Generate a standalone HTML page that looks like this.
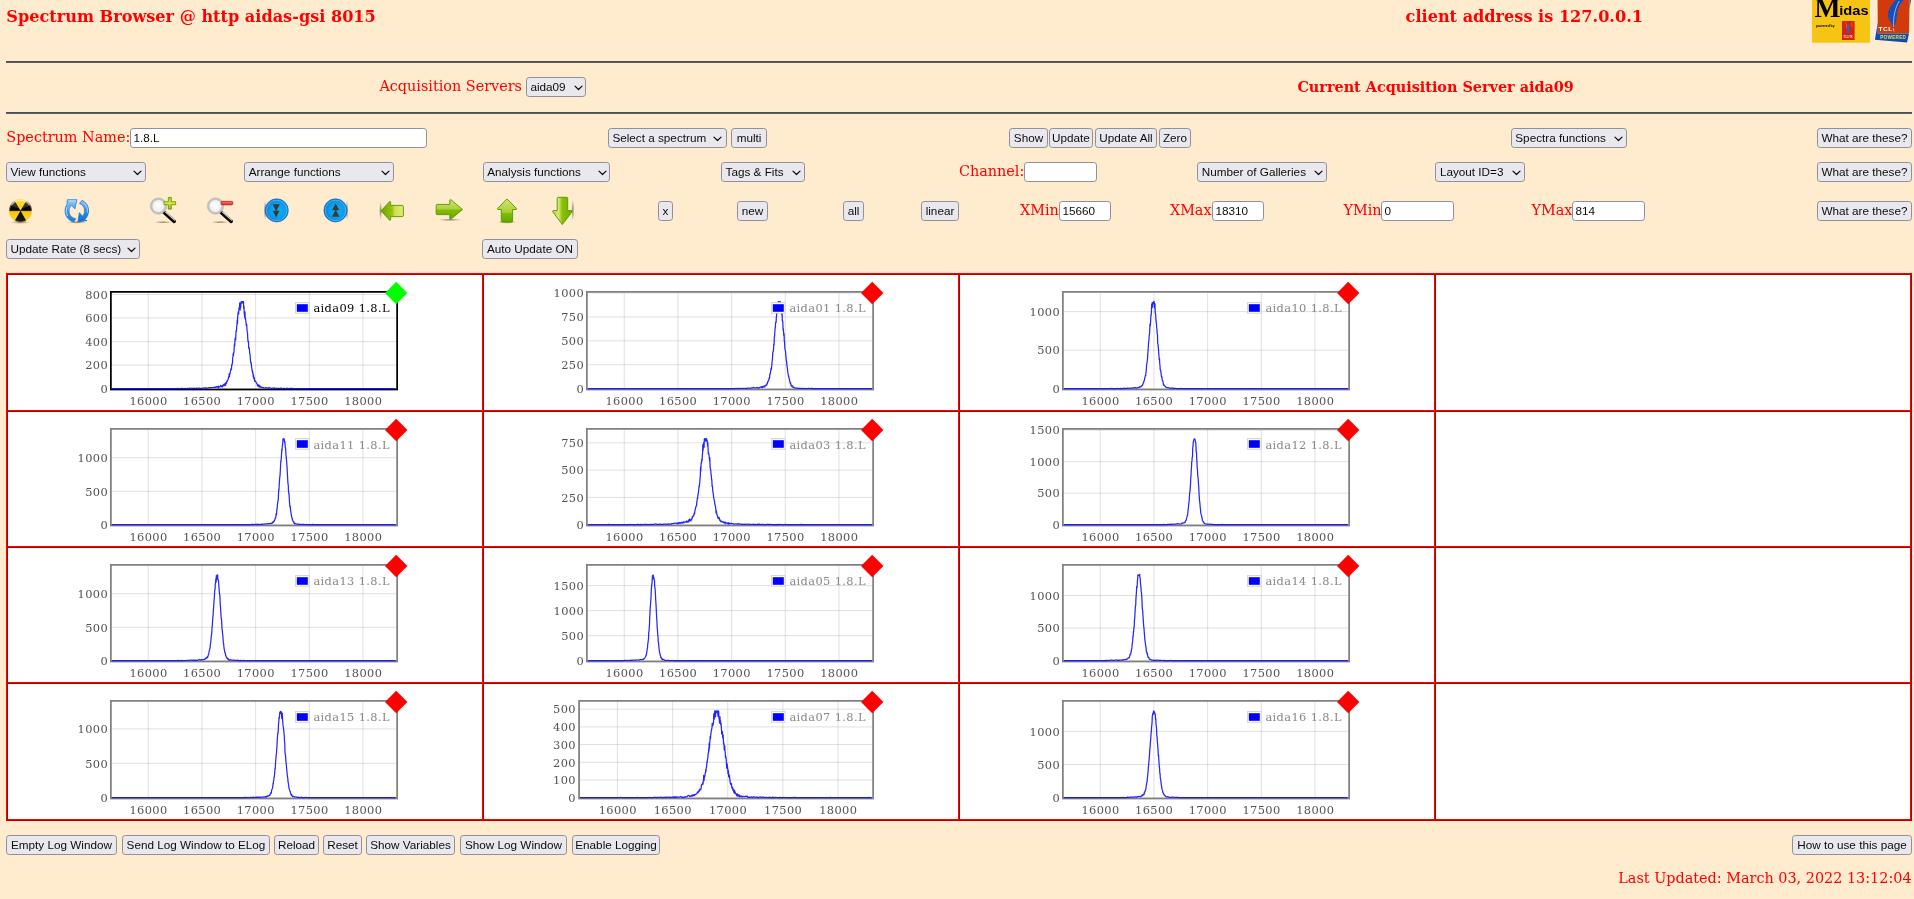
<!DOCTYPE html>
<html lang="en"><head><meta charset="utf-8"><title>Spectrum Browser</title>
<style>
html,body{margin:0;padding:0}
body{background:#ffebcd;width:1914px;height:899px;position:relative;overflow:hidden;font-family:"DejaVu Serif","Liberation Serif",serif;color:#f00}
.a{position:absolute;white-space:nowrap}
.t{font-size:14.4px;line-height:18px;color:#f00}
.h{font-size:16.13px;font-weight:bold;line-height:20px;color:#f00}
.hb{font-size:14.4px;font-weight:bold;line-height:18px;color:#f00}
button,.sel,input{position:absolute;box-sizing:border-box;height:20px;margin:0;padding:0;border:1px solid #8f8f9d;border-radius:3.2px;font-family:"Liberation Sans",sans-serif;font-size:11.73px;line-height:18px;color:#0c0c0d;white-space:nowrap}
button,.sel{background:#e9e9ed;text-align:center}
.sel{text-align:left;overflow:hidden}
.sel span{position:absolute;top:0}
.sel svg{position:absolute;top:7px}
input{background:#fff;padding:0 0 2px 2.5px;outline:none}
hr{position:absolute;left:6px;width:1906px;height:0;margin:0;border:0;border-top:1px solid #4c4d52;border-bottom:1px solid #5b5f69}
#page{position:absolute;left:0;top:0;width:1914px;height:899px;will-change:transform}
.tb{position:absolute;background:#fff}
.cell{position:absolute;background:#fff;border:1px solid;border-color:#b00000 #ff0000 #ff0000 #b00000}
.cell svg{position:absolute;left:0;top:0;will-change:transform}
.ic{position:absolute}
</style></head>
<body>
<div id="page">
<div class="a h" style="left:6.3px;top:6.9px">Spectrum Browser @ http aidas-gsi 8015</div>
<div class="a h" style="left:1405.6px;top:6.9px">client address is 127.0.0.1</div>
<svg class="ic" style="left:1810px;top:0" width="104" height="46" viewBox="1810 0 104 46">
<rect x="1812" y="0" width="58" height="42.7" fill="#f6c412"/>
<text x="1814.6" y="17.4" font-family="Liberation Serif, serif" font-weight="bold" font-size="27.5" fill="#000">M</text>
<text x="0" y="0" transform="translate(1839.2 15) scale(1.13 1)" font-family="Liberation Sans, sans-serif" font-weight="bold" font-size="13" fill="#000">idas</text>
<text x="0" y="0" transform="translate(1816 27.2) scale(.44 .5)" font-family="Liberation Sans, sans-serif" font-weight="bold" font-size="7.6" fill="#000">powered by</text>
<rect x="1842" y="21" width="12.6" height="19" fill="#d6230d"/>
<path d="M1849.6 23.4 C1847.0 25.6 1846.2 30.6 1847.6 35.2 C1849.4 31.8 1850.2 27.4 1849.6 23.4 Z" fill="#2a62c8"/>
<path d="M1845.2 22.4 C1846.8 24 1847.0 26 1846.4 28 M1852.4 22.6 C1851.2 24 1851.6 25.8 1852.6 27" stroke="#e8a020" stroke-width=".5" fill="none"/>
<text x="0" y="0" transform="translate(1843.2 38.4) scale(.5)" font-family="Liberation Sans, sans-serif" font-weight="bold" font-size="5.4" fill="#f3d9c0">TCL/TK</text>
<!-- tcl powered -->
<path d="M1877.6 0 L1909.6 0 L1909.0 33.6 L1877.8 33.6 Z" fill="#d23a0c"/>
<path d="M1877.9 22 L1877.7 33.6 L1909.0 33.4 L1907.0 42.6 L1874.9 39.8 Z" fill="#0c4bb6"/>
<path d="M1909.8 0 L1911 0 L1909.6 8 Z" fill="#0c4bb6"/>
<path d="M1895.6 0 C1892.6 3.6 1888.8 8.2 1888.0 13 C1887.4 16.6 1888.6 19 1890.4 21.6 C1891.8 23.6 1893.0 25.6 1893.6 28.6 C1894.6 25.4 1896.0 22.4 1896.6 19 C1897.4 14.6 1897.4 10.6 1898.6 7.2 C1899.6 4.6 1901.6 2.2 1903.4 0 Z" fill="#0d50c4"/>
<path d="M1899.2 1 C1895.2 8 1893.0 17 1893.6 27" stroke="#e8d8d0" stroke-width=".7" fill="none"/>
<path d="M1889.4 9.4 l1.6 1.8 M1888.4 13.4 l2 1.6 M1888.8 17.6 l2 1.2 M1897.6 11.6 l-1.8 1.8 M1897.2 16 l-1.8 1.6" stroke="#d23a0c" stroke-width=".6" fill="none"/>
<text x="0" y="0" transform="translate(1878.6 31.2) scale(1.15 1)" font-family="Liberation Sans, sans-serif" font-weight="bold" font-size="5.6" fill="#fff" letter-spacing=".5">TCL</text>
<path d="M1893.2 28 l.8 3.4" stroke="#fff" stroke-width=".6"/>
<text x="0" y="0" transform="translate(1880.2 39.4) scale(.9 1)" font-family="Liberation Sans, sans-serif" font-weight="bold" font-size="5.2" fill="#f3e020" letter-spacing=".3">POWERED</text>
</svg>

<hr style="top:61px">
<hr style="top:112px">
<div class="a t" style="left:379.4px;top:76.8px">Acquisition Servers</div>
<div class="sel" role="combobox" style="left:526px;top:77px;width:60px"><span style="left:3.4px">aida09</span><svg width="9" height="6" viewBox="0 0 9 6" style="left:46.5px"><path d="M1.0 1.1 L4.5 4.5 L8.0 1.1" fill="none" stroke="#0c0c0d" stroke-width="1.25" stroke-linecap="round" stroke-linejoin="round"/></svg></div>
<div class="a hb" style="left:1297.4px;top:78.0px">Current Acquisition Server aida09</div>
<div class="a t" style="left:6.3px;top:128.1px">Spectrum Name:</div>
<input type="text" value="1.8.L" style="left:130px;top:128px;width:297px">
<div class="sel" role="combobox" style="left:608px;top:128px;width:119px"><span style="left:3.4px">Select a spectrum</span><svg width="9" height="6" viewBox="0 0 9 6" style="left:104.3px"><path d="M1.0 1.1 L4.5 4.5 L8.0 1.1" fill="none" stroke="#0c0c0d" stroke-width="1.25" stroke-linecap="round" stroke-linejoin="round"/></svg></div>
<button type="button" style="left:731px;top:128px;width:36px">multi</button>
<button type="button" style="left:1009px;top:128px;width:39px">Show</button>
<button type="button" style="left:1049px;top:128px;width:44px">Update</button>
<button type="button" style="left:1095px;top:128px;width:62px">Update All</button>
<button type="button" style="left:1159px;top:128px;width:32px">Zero</button>
<div class="sel" role="combobox" style="left:1511px;top:128px;width:116px"><span style="left:3.3px">Spectra functions</span><svg width="9" height="6" viewBox="0 0 9 6" style="left:101.8px"><path d="M1.0 1.1 L4.5 4.5 L8.0 1.1" fill="none" stroke="#0c0c0d" stroke-width="1.25" stroke-linecap="round" stroke-linejoin="round"/></svg></div>
<button type="button" style="left:1817px;top:128px;width:95px">What are these?</button>
<div class="sel" role="combobox" style="left:6px;top:162px;width:140px"><span style="left:3.5px">View functions</span><svg width="9" height="6" viewBox="0 0 9 6" style="left:125.7px"><path d="M1.0 1.1 L4.5 4.5 L8.0 1.1" fill="none" stroke="#0c0c0d" stroke-width="1.25" stroke-linecap="round" stroke-linejoin="round"/></svg></div>
<div class="sel" role="combobox" style="left:244px;top:162px;width:150px"><span style="left:3.7px">Arrange functions</span><svg width="9" height="6" viewBox="0 0 9 6" style="left:135.5px"><path d="M1.0 1.1 L4.5 4.5 L8.0 1.1" fill="none" stroke="#0c0c0d" stroke-width="1.25" stroke-linecap="round" stroke-linejoin="round"/></svg></div>
<div class="sel" role="combobox" style="left:483px;top:162px;width:127px"><span style="left:3.2px">Analysis functions</span><svg width="9" height="6" viewBox="0 0 9 6" style="left:113.7px"><path d="M1.0 1.1 L4.5 4.5 L8.0 1.1" fill="none" stroke="#0c0c0d" stroke-width="1.25" stroke-linecap="round" stroke-linejoin="round"/></svg></div>
<div class="sel" role="combobox" style="left:721px;top:162px;width:84px"><span style="left:3.6px">Tags &amp; Fits</span><svg width="9" height="6" viewBox="0 0 9 6" style="left:69.6px"><path d="M1.0 1.1 L4.5 4.5 L8.0 1.1" fill="none" stroke="#0c0c0d" stroke-width="1.25" stroke-linecap="round" stroke-linejoin="round"/></svg></div>
<div class="a t" style="left:958.9px;top:162.3px">Channel:</div>
<input type="text" value="" style="left:1024px;top:162px;width:73px">
<div class="sel" role="combobox" style="left:1197px;top:162px;width:130px"><span style="left:3.8px">Number of Galleries</span><svg width="9" height="6" viewBox="0 0 9 6" style="left:116.0px"><path d="M1.0 1.1 L4.5 4.5 L8.0 1.1" fill="none" stroke="#0c0c0d" stroke-width="1.25" stroke-linecap="round" stroke-linejoin="round"/></svg></div>
<div class="sel" role="combobox" style="left:1435px;top:162px;width:90px"><span style="left:3.9px">Layout ID=3</span><svg width="9" height="6" viewBox="0 0 9 6" style="left:76.0px"><path d="M1.0 1.1 L4.5 4.5 L8.0 1.1" fill="none" stroke="#0c0c0d" stroke-width="1.25" stroke-linecap="round" stroke-linejoin="round"/></svg></div>
<button type="button" style="left:1817px;top:162px;width:95px">What are these?</button>
<svg class="ic" style="left:0;top:192px" width="600" height="40" viewBox="0 192 600 40">
<defs>
<radialGradient id="gsh"><stop offset="0" stop-color="#3a2a10" stop-opacity=".55"/><stop offset="1" stop-color="#3a2a10" stop-opacity="0"/></radialGradient>
<linearGradient id="gy" x1="0" y1="0" x2="0" y2="1"><stop offset="0" stop-color="#ffd800"/><stop offset=".5" stop-color="#f5c400"/><stop offset="1" stop-color="#ffdc30"/></linearGradient>
<linearGradient id="gk" x1="0" y1="0" x2="0" y2="1"><stop offset="0" stop-color="#4a4a4a"/><stop offset=".45" stop-color="#050505"/><stop offset="1" stop-color="#2a2a2a"/></linearGradient>
<clipPath id="cr"><circle cx="20.5" cy="210.8" r="11.4"/></clipPath>
<linearGradient id="gb1" x1="0" y1="0" x2="0" y2="1"><stop offset="0" stop-color="#9ad0f8"/><stop offset=".5" stop-color="#3b9be6"/><stop offset="1" stop-color="#1a78d2"/></linearGradient>
<linearGradient id="gb2" x1="0" y1="0" x2="0" y2="1"><stop offset="0" stop-color="#8cc8f6"/><stop offset=".5" stop-color="#2d8fe2"/><stop offset="1" stop-color="#0f6fd0"/></linearGradient>
<radialGradient id="glens" cx=".45" cy=".45" r=".6"><stop offset="0" stop-color="#ffffff"/><stop offset=".7" stop-color="#f0eeee"/><stop offset="1" stop-color="#d9d6d6"/></radialGradient>
<linearGradient id="gpl" x1="0" y1="0" x2="0" y2="1"><stop offset="0" stop-color="#a6c81a"/><stop offset=".5" stop-color="#d6e84a"/><stop offset="1" stop-color="#8ab510"/></linearGradient>
<linearGradient id="gmi" x1="0" y1="0" x2="0" y2="1"><stop offset="0" stop-color="#ee7a78"/><stop offset=".55" stop-color="#e35553"/><stop offset="1" stop-color="#cf1d1d"/></linearGradient>
<radialGradient id="gball" cx=".55" cy=".5" r=".55"><stop offset="0" stop-color="#08b2f6"/><stop offset=".6" stop-color="#0a9deb"/><stop offset="1" stop-color="#0a72cf"/></radialGradient>
<linearGradient id="gla" x1="0" y1="0" x2="1" y2="0"><stop offset="0" stop-color="#62a600"/><stop offset=".5" stop-color="#9cc40a"/><stop offset=".62" stop-color="#cfdf58"/><stop offset="1" stop-color="#e2ea70"/></linearGradient>
<linearGradient id="gra" x1="0" y1="0" x2="0" y2="1"><stop offset="0" stop-color="#cfe078"/><stop offset=".45" stop-color="#b4d03e"/><stop offset=".55" stop-color="#86ba00"/><stop offset="1" stop-color="#62a800"/></linearGradient>
<linearGradient id="gua" x1="0" y1="0" x2="0" y2="1"><stop offset="0" stop-color="#d4e478"/><stop offset=".58" stop-color="#a8cf30"/><stop offset=".62" stop-color="#86bc00"/><stop offset="1" stop-color="#5ca600"/></linearGradient>
<linearGradient id="gda" x1="0" y1="0" x2="1" y2="0"><stop offset="0" stop-color="#b2d23a"/><stop offset=".3" stop-color="#d6e67a"/><stop offset=".5" stop-color="#8cc000"/><stop offset="1" stop-color="#6cae00"/></linearGradient>
</defs>
<!-- 1 radiation -->
<ellipse cx="20.5" cy="222.3" rx="10" ry="1.6" fill="url(#gsh)"/>
<g clip-path="url(#cr)">
<circle cx="20.5" cy="210.8" r="11.6" fill="url(#gy)"/>
<path d="M20.5 210.8 L-2.5 210.8 L9 190.9 Z M20.5 210.8 L32 190.9 L43.5 210.8 Z M20.5 210.8 L32 230.7 L9 230.7 Z" fill="url(#gk)"/>
<rect x="8" y="210.1" width="25" height="1" fill="#0a0a30" opacity=".6"/>
</g>
<ellipse cx="20.5" cy="203.5" rx="9" ry="5" fill="#fff" opacity=".13" clip-path="url(#cr)"/>
<circle cx="20.5" cy="210.8" r="11.2" fill="none" stroke="#f0b860" stroke-width=".7" opacity=".7"/>
<path d="M11.5 205.5 A10.5 10.5 0 0 1 29.5 205.5" fill="none" stroke="#fff" stroke-width="1.1" opacity=".55"/>
<!-- 2 refresh -->
<ellipse cx="77" cy="222.3" rx="10" ry="1.4" fill="url(#gsh)"/>
<path d="M73.9 222.2 A11.8 11.8 0 0 1 67.0 204.2 L67.3 199.7 L76.9 199.7 L74.9 208.9 L71.3 205.1 A7.9 7.9 0 0 0 75.7 218.6 Z" fill="url(#gb1)" stroke="#2a80d8" stroke-width=".8" stroke-linejoin="round"/>
<path d="M82.2 200.3 A11.8 11.8 0 0 1 84.4 219.8 L87.0 220.5 L77.9 221.9 L79.4 212.7 L82.5 216.3 A7.9 7.9 0 0 0 79.5 203.4 Z" fill="url(#gb2)" stroke="#1a6fd0" stroke-width=".8" stroke-linejoin="round"/>
<path d="M66.8 207.2 A10.6 10.6 0 0 0 67.6 216.1" fill="none" stroke="#d8eefc" stroke-width="1" opacity=".7"/>
<path d="M83.6 202.7 A10.6 10.6 0 0 1 87.2 212.6" fill="none" stroke="#d8eefc" stroke-width="1" opacity=".7"/>
<path d="M68.6 200.9 H75.6" stroke="#d8eefc" stroke-width=".9" opacity=".7"/>
<!-- 3 zoom in -->
<ellipse cx="163" cy="222.2" rx="9" ry="1.3" fill="url(#gsh)"/>
<path d="M164.2 212.4 L174.2 221.4" stroke="#0a0a0a" stroke-width="3.6" stroke-linecap="round"/>
<path d="M165.6 212.0 L174.6 220.2" stroke="#fff" stroke-width="1.1" stroke-linecap="round" opacity=".85"/>
<circle cx="158.5" cy="206.1" r="7.1" fill="url(#glens)" stroke="#c3c3c3" stroke-width="2"/>
<circle cx="158.5" cy="206.1" r="8.2" fill="none" stroke="#a9a9a9" stroke-width=".5"/>
<path d="M168.3 197.4 h3.0 v4.3 h4.3 v3.0 h-4.3 v4.4 h-3.0 v-4.4 h-4.3 v-3.0 h4.3 Z" fill="url(#gpl)" stroke="#6f9a00" stroke-width=".9" stroke-linejoin="round"/>
<!-- 4 zoom out -->
<ellipse cx="220" cy="222.2" rx="9" ry="1.3" fill="url(#gsh)"/>
<path d="M221.2 212.4 L231.2 221.4" stroke="#0a0a0a" stroke-width="3.6" stroke-linecap="round"/>
<path d="M222.6 212.0 L231.6 220.2" stroke="#fff" stroke-width="1.1" stroke-linecap="round" opacity=".85"/>
<circle cx="215.5" cy="206.1" r="7.1" fill="url(#glens)" stroke="#c3c3c3" stroke-width="2"/>
<circle cx="215.5" cy="206.1" r="8.2" fill="none" stroke="#a9a9a9" stroke-width=".5"/>
<rect x="221.1" y="201.4" width="11.6" height="3.4" rx=".9" fill="url(#gmi)" stroke="#c81414" stroke-width=".8"/>
<!-- 5 ball down -->
<ellipse cx="265.2" cy="210.4" rx="1.6" ry="10" fill="url(#gsh)"/>
<circle cx="276.7" cy="210.4" r="11.6" fill="url(#gball)" stroke="#0b62c4" stroke-width=".6"/>
<circle cx="276.7" cy="210.4" r="10.2" fill="none" stroke="#7fd0ff" stroke-width=".8" opacity=".7"/>
<path d="M272.7 204.2 L279.8 204.2 L276.2 211.6 Z M272.8 210.8 L279.5 210.8 L276.2 217.6 Z" fill="#3c3733"/>
<!-- 6 ball up -->
<ellipse cx="347.0" cy="210.4" rx="1.6" ry="10" fill="url(#gsh)"/>
<circle cx="335.5" cy="210.4" r="11.6" fill="url(#gball)" stroke="#0b62c4" stroke-width=".6"/>
<circle cx="335.5" cy="210.4" r="10.2" fill="none" stroke="#7fd0ff" stroke-width=".8" opacity=".7"/>
<path d="M335.7 203.5 L339.3 210.2 L332.1 210.2 Z M335.7 209.4 L339.3 216.8 L332.1 216.8 Z" fill="#3c3733"/>
<!-- 7 left arrow -->
<ellipse cx="380.6" cy="210.8" rx="1.5" ry="9.5" fill="url(#gsh)"/>
<path d="M381.0 210.8 L389.8 201.4 L390.6 201.8 L390.6 205.4 L402.8 205.4 L403.4 206 L403.4 216 L402.8 216.6 L390.6 216.6 L390.6 220.0 L389.8 220.4 Z" fill="url(#gla)" stroke="#4f9800" stroke-width=".9" stroke-linejoin="round"/>
<!-- 8 right arrow -->
<ellipse cx="450" cy="219.8" rx="12" ry="1.3" fill="url(#gsh)"/>
<path d="M462.6 209.5 L450.8 199.6 L449.8 200.0 L449.8 204.4 L436.8 204.4 L436.2 205 L436.2 214.0 L436.8 214.6 L449.8 214.6 L449.8 218.8 L450.8 219.2 Z" fill="url(#gra)" stroke="#4f9800" stroke-width=".9" stroke-linejoin="round"/>
<!-- 9 up arrow -->
<ellipse cx="507" cy="222.2" rx="10" ry="1.5" fill="url(#gsh)"/>
<path d="M506.9 198.9 L497.4 208.6 L497.8 209.5 L501.3 209.5 L501.3 221.4 L501.9 222 L512.0 222 L512.6 221.4 L512.6 209.5 L516.3 209.5 L516.7 208.6 Z" fill="url(#gua)" stroke="#4f9800" stroke-width=".9" stroke-linejoin="round"/>
<!-- 10 down arrow -->
<ellipse cx="572.8" cy="210" rx="1.5" ry="11" fill="url(#gsh)"/>
<path d="M562.3 224.6 L552.6 211.6 L553.0 210.6 L557.2 210.6 L557.2 197.9 L557.8 197.3 L567.1 197.3 L567.7 197.9 L567.7 210.6 L571.8 210.6 L572.2 211.6 Z" fill="url(#gda)" stroke="#4f9800" stroke-width=".9" stroke-linejoin="round"/>
</svg>

<button type="button" style="left:658px;top:201px;width:15px">x</button>
<button type="button" style="left:737px;top:201px;width:31px">new</button>
<button type="button" style="left:843px;top:201px;width:21px">all</button>
<button type="button" style="left:921px;top:201px;width:38px">linear</button>
<div class="a t" style="left:1020.0px;top:200.9px">XMin</div>
<input type="text" value="15660" style="left:1059px;top:201px;width:52px">
<div class="a t" style="left:1169.9px;top:200.9px">XMax</div>
<input type="text" value="18310" style="left:1212px;top:201px;width:52px">
<div class="a t" style="left:1343.4px;top:200.9px">YMin</div>
<input type="text" value="0" style="left:1381px;top:201px;width:73px">
<div class="a t" style="left:1531.4px;top:200.9px">YMax</div>
<input type="text" value="814" style="left:1572px;top:201px;width:73px">
<button type="button" style="left:1817px;top:201px;width:95px">What are these?</button>
<div class="sel" role="combobox" style="left:6px;top:239px;width:134px"><span style="left:3.5px">Update Rate (8 secs)</span><svg width="9" height="6" viewBox="0 0 9 6" style="left:119.8px"><path d="M1.0 1.1 L4.5 4.5 L8.0 1.1" fill="none" stroke="#0c0c0d" stroke-width="1.25" stroke-linecap="round" stroke-linejoin="round"/></svg></div>
<button type="button" style="left:482px;top:239px;width:96px">Auto Update ON</button>
<div class="tb" style="left:6px;top:273px;width:1904px;height:546px;border:1px solid;border-color:#ff0000 #b00000 #b00000 #ff0000"></div>
<div class="cell" style="left:7px;top:274px;width:474px;height:135px"><svg width="474" height="135" viewBox="0 0 474 135" font-family="DejaVu Serif, Liberation Serif, serif" font-size="11.4" letter-spacing="0.38"><path d="M140.25 17.75V113.70M193.93 17.75V113.70M247.61 17.75V113.70M301.29 17.75V113.70M354.97 17.75V113.70M103.75 113.70H388.25M103.75 90.13H388.25M103.75 66.55H388.25M103.75 42.98H388.25M103.75 19.40H388.25" stroke="#545454" stroke-opacity="0.18" stroke-width="1" fill="none"/><rect x="102.88" y="16.88" width="286.25" height="97.62" fill="none" stroke="#000" stroke-width="1.75"/><path d="M103.8 113.7L104.6 113.6L105.4 113.7L106.2 113.7L107.0 113.7L107.8 113.7L108.6 113.6L109.4 113.6L110.2 113.6L111.0 113.7L111.8 113.6L112.6 113.7L113.4 113.7L114.2 113.6L115.0 113.6L115.8 113.6L116.6 113.7L117.4 113.7L118.2 113.7L119.0 113.7L119.8 113.6L120.6 113.7L121.4 113.6L122.2 113.7L123.0 113.6L123.8 113.6L124.6 113.7L125.4 113.6L126.2 113.6L127.0 113.6L127.8 113.7L128.6 113.7L129.4 113.7L130.2 113.7L131.0 113.6L131.8 113.6L132.6 113.7L133.4 113.7L134.2 113.7L135.0 113.6L135.8 113.7L136.6 113.6L137.4 113.6L138.2 113.7L139.0 113.6L139.8 113.6L140.6 113.7L141.4 113.7L142.2 113.6L143.0 113.7L143.8 113.6L144.6 113.6L145.4 113.7L146.2 113.6L147.0 113.6L147.8 113.6L148.6 113.5L149.4 113.6L150.2 113.6L151.0 113.7L151.8 113.6L152.6 113.7L153.4 113.7L154.2 113.7L155.0 113.7L155.8 113.7L156.6 113.5L157.4 113.7L158.2 113.7L159.0 113.6L159.8 113.5L160.6 113.5L161.4 113.7L162.2 113.7L163.0 113.6L163.8 113.7L164.6 113.7L165.4 113.5L166.2 113.5L167.0 113.6L167.8 113.5L168.6 113.5L169.4 113.4L170.2 113.5L171.0 113.5L171.8 113.5L172.6 113.7L173.4 113.4L174.2 113.4L175.0 113.5L175.8 113.7L176.6 113.6L177.4 113.4L178.2 113.7L179.0 113.5L179.8 113.3L180.6 113.6L181.4 113.2L182.2 113.4L183.0 113.4L183.8 113.4L184.6 113.3L185.4 113.4L186.2 113.2L187.0 113.5L187.8 113.4L188.6 113.1L189.4 113.3L190.2 113.4L191.0 113.1L191.8 113.0L192.6 113.3L193.4 113.5L194.2 113.2L195.0 113.2L195.8 113.2L196.6 112.8L197.4 113.3L198.2 112.7L199.0 113.2L199.8 113.1L200.6 112.7L201.4 112.5L202.2 112.5L203.0 112.6L203.8 112.6L204.6 112.5L205.4 112.3L206.2 112.5L207.0 112.2L207.2 112.1L207.5 112.3L207.7 112.0L208.0 112.0L208.2 111.5L208.5 112.0L208.7 112.2L209.0 112.2L209.2 112.0L209.5 111.7L209.7 112.1L210.0 111.8L210.2 111.2L210.5 112.8L210.7 112.2L211.0 111.6L211.2 111.5L211.5 111.5L211.7 111.8L212.0 111.3L212.2 111.4L212.5 111.6L212.7 110.3L213.0 111.1L213.2 111.4L213.5 111.2L213.7 111.1L214.0 111.0L214.2 112.1L214.5 111.0L214.7 110.2L215.0 111.1L215.2 110.4L215.5 109.8L215.7 109.7L216.0 109.2L216.2 110.7L216.5 109.8L216.7 109.6L217.0 108.8L217.2 108.3L217.5 110.4L217.7 107.7L218.0 109.1L218.2 107.4L218.5 108.5L218.7 107.0L219.0 105.8L219.2 106.3L219.5 105.6L219.7 104.6L220.0 104.6L220.2 104.2L220.5 102.1L220.7 101.8L221.0 102.3L221.2 98.6L221.5 101.6L221.7 98.6L222.0 98.9L222.2 97.5L222.5 95.8L222.7 95.2L223.0 93.5L223.2 94.9L223.5 93.7L223.7 89.6L224.0 90.2L224.2 88.9L224.5 88.0L224.7 82.4L225.0 81.4L225.2 78.5L225.5 80.5L225.7 77.2L226.0 77.2L226.2 72.0L226.5 68.5L226.7 70.9L227.0 64.3L227.2 63.2L227.5 63.3L227.7 64.8L228.0 55.9L228.2 56.8L228.5 55.7L228.7 51.5L229.0 49.3L229.2 44.8L229.5 48.5L229.7 41.6L230.0 38.8L230.2 37.0L230.5 39.1L230.7 38.8L231.0 32.9L231.2 33.7L231.5 32.3L231.7 27.8L232.0 30.9L232.2 35.0L232.5 29.4L232.7 32.4L233.0 27.2L233.2 26.7L233.5 28.1L233.7 26.5L234.0 27.5L234.2 26.7L234.5 27.7L234.7 28.1L235.0 26.7L235.2 26.8L235.5 26.6L235.7 33.5L236.0 31.0L236.2 39.1L236.5 38.7L236.7 42.4L237.0 36.9L237.2 44.1L237.5 43.1L237.7 45.4L238.0 47.0L238.2 50.3L238.5 50.6L238.7 49.4L239.0 55.3L239.2 56.4L239.5 57.7L239.7 62.2L240.0 66.4L240.2 67.2L240.5 66.3L240.7 73.3L241.0 73.5L241.2 72.7L241.5 75.1L241.7 78.3L242.0 79.0L242.2 81.8L242.5 85.6L242.7 87.8L243.0 88.1L243.2 87.5L243.5 91.1L243.7 92.9L244.0 94.1L244.2 96.4L244.5 95.9L244.7 98.3L245.0 97.7L245.2 101.7L245.5 99.9L245.7 101.8L246.0 103.9L246.2 102.3L246.5 104.0L246.7 106.3L247.0 105.8L247.2 105.6L247.5 106.7L247.7 106.4L248.0 106.9L248.2 107.5L248.5 108.1L248.7 107.9L249.0 108.7L249.2 109.2L249.5 110.9L249.7 109.6L250.0 109.7L250.2 110.7L250.5 111.0L250.7 110.1L251.0 111.9L251.2 111.1L251.5 110.5L251.7 112.0L252.0 111.5L252.2 111.2L252.5 112.0L252.7 111.9L253.0 111.8L253.2 112.5L253.5 112.3L253.7 112.3L254.0 112.2L254.8 112.6L255.6 112.7L256.4 113.0L257.2 112.9L258.0 112.7L258.8 112.9L259.6 113.2L260.4 113.2L261.2 112.5L262.0 112.9L262.8 113.0L263.6 113.7L264.4 113.1L265.2 113.1L266.0 112.9L266.8 113.2L267.6 113.3L268.4 113.2L269.2 113.7L270.0 113.2L270.8 113.3L271.6 113.5L272.4 113.2L273.2 113.1L274.0 113.6L274.8 113.5L275.6 113.4L276.4 113.4L277.2 113.5L278.0 113.6L278.8 113.2L279.6 113.3L280.4 113.6L281.2 113.7L282.0 113.3L282.8 113.4L283.6 113.3L284.4 113.4L285.2 113.6L286.0 113.5L286.8 113.7L287.6 113.6L288.4 113.5L289.2 113.5L290.0 113.6L290.8 113.6L291.6 113.5L292.4 113.5L293.2 113.5L294.0 113.5L294.8 113.6L295.6 113.5L296.4 113.6L297.2 113.7L298.0 113.6L298.8 113.6L299.6 113.6L300.4 113.6L301.2 113.6L302.0 113.6L302.8 113.6L303.6 113.7L304.4 113.6L305.2 113.5L306.0 113.6L306.8 113.6L307.6 113.6L308.4 113.7L309.2 113.7L310.0 113.6L310.8 113.7L311.6 113.6L312.4 113.7L313.2 113.7L314.0 113.7L314.8 113.5L315.6 113.7L316.4 113.7L317.2 113.7L318.0 113.6L318.8 113.6L319.6 113.6L320.4 113.5L321.2 113.6L322.0 113.6L322.8 113.6L323.6 113.5L324.4 113.6L325.2 113.6L326.0 113.7L326.8 113.7L327.6 113.6L328.4 113.7L329.2 113.6L330.0 113.6L330.8 113.6L331.6 113.7L332.4 113.5L333.2 113.6L334.0 113.7L334.8 113.6L335.6 113.5L336.4 113.7L337.2 113.6L338.0 113.6L338.8 113.7L339.6 113.7L340.4 113.6L341.2 113.6L342.0 113.6L342.8 113.6L343.6 113.7L344.4 113.6L345.2 113.6L346.0 113.6L346.8 113.7L347.6 113.7L348.4 113.6L349.2 113.7L350.0 113.7L350.8 113.7L351.6 113.7L352.4 113.7L353.2 113.7L354.0 113.7L354.8 113.6L355.6 113.6L356.4 113.7L357.2 113.7L358.0 113.7L358.8 113.6L359.6 113.6L360.4 113.6L361.2 113.7L362.0 113.7L362.8 113.7L363.6 113.6L364.4 113.6L365.2 113.7L366.0 113.7L366.8 113.6L367.6 113.7L368.4 113.7L369.2 113.7L370.0 113.7L370.8 113.7L371.6 113.7L372.4 113.7L373.2 113.6L374.0 113.6L374.8 113.6L375.6 113.6L376.4 113.7L377.2 113.7L378.0 113.7L378.8 113.7L379.6 113.7L380.4 113.7L381.2 113.6L382.0 113.7L382.8 113.7L383.6 113.7L384.4 113.7L385.2 113.7L386.0 113.7L386.8 113.7L387.6 113.6" fill="none" stroke="#0000ff" stroke-width="1.25" stroke-opacity="0.85" stroke-linejoin="round"/><text x="140.5" y="129.6" text-anchor="middle" fill="#545454">16000</text><text x="194.1" y="129.6" text-anchor="middle" fill="#545454">16500</text><text x="247.8" y="129.6" text-anchor="middle" fill="#545454">17000</text><text x="301.5" y="129.6" text-anchor="middle" fill="#545454">17500</text><text x="355.2" y="129.6" text-anchor="middle" fill="#545454">18000</text><text x="100.1" y="117.6" text-anchor="end" fill="#545454">0</text><text x="100.1" y="93.6" text-anchor="end" fill="#545454">200</text><text x="100.1" y="70.6" text-anchor="end" fill="#545454">400</text><text x="100.1" y="46.6" text-anchor="end" fill="#545454">600</text><text x="100.1" y="23.6" text-anchor="end" fill="#545454">800</text><rect x="287.4" y="27.6" width="13.6" height="10.6" fill="#fffff4" stroke="#ccc" stroke-width="0.8"/><rect x="288.8" y="29.2" width="11" height="7.6" fill="#0000ff"/><text x="305.4" y="36.8" fill="#000">aida09 1.8.L</text><path d="M388.2 6.800000000000001L399.4 18L388.2 29.2L377.0 18Z" fill="#00ff00"/></svg></div>
<div class="cell" style="left:483px;top:274px;width:474px;height:135px"><svg width="474" height="135" viewBox="0 0 474 135" font-family="DejaVu Serif, Liberation Serif, serif" font-size="11.4" letter-spacing="0.38"><path d="M140.25 17.75V113.70M193.93 17.75V113.70M247.61 17.75V113.70M301.29 17.75V113.70M354.97 17.75V113.70M103.75 113.70H388.25M103.75 89.78H388.25M103.75 65.87H388.25M103.75 41.95H388.25M103.75 18.04H388.25" stroke="#545454" stroke-opacity="0.18" stroke-width="1" fill="none"/><rect x="102.88" y="16.88" width="286.25" height="97.62" fill="none" stroke="#808080" stroke-width="1.75"/><path d="M103.8 113.7L104.6 113.7L105.4 113.7L106.2 113.7L107.0 113.7L107.8 113.7L108.6 113.7L109.4 113.7L110.2 113.6L111.0 113.7L111.8 113.7L112.6 113.7L113.4 113.7L114.2 113.7L115.0 113.6L115.8 113.7L116.6 113.7L117.4 113.6L118.2 113.6L119.0 113.7L119.8 113.7L120.6 113.7L121.4 113.7L122.2 113.7L123.0 113.7L123.8 113.7L124.6 113.7L125.4 113.7L126.2 113.7L127.0 113.7L127.8 113.6L128.6 113.6L129.4 113.7L130.2 113.7L131.0 113.6L131.8 113.6L132.6 113.7L133.4 113.7L134.2 113.6L135.0 113.7L135.8 113.6L136.6 113.7L137.4 113.7L138.2 113.6L139.0 113.7L139.8 113.6L140.6 113.7L141.4 113.7L142.2 113.7L143.0 113.7L143.8 113.7L144.6 113.7L145.4 113.7L146.2 113.6L147.0 113.7L147.8 113.6L148.6 113.7L149.4 113.7L150.2 113.6L151.0 113.6L151.8 113.7L152.6 113.7L153.4 113.7L154.2 113.6L155.0 113.7L155.8 113.7L156.6 113.6L157.4 113.7L158.2 113.7L159.0 113.6L159.8 113.7L160.6 113.6L161.4 113.7L162.2 113.7L163.0 113.6L163.8 113.6L164.6 113.7L165.4 113.7L166.2 113.7L167.0 113.7L167.8 113.7L168.6 113.6L169.4 113.6L170.2 113.7L171.0 113.7L171.8 113.7L172.6 113.7L173.4 113.7L174.2 113.7L175.0 113.7L175.8 113.7L176.6 113.7L177.4 113.7L178.2 113.7L179.0 113.7L179.8 113.7L180.6 113.7L181.4 113.7L182.2 113.7L183.0 113.7L183.8 113.7L184.6 113.7L185.4 113.7L186.2 113.7L187.0 113.7L187.8 113.7L188.6 113.7L189.4 113.7L190.2 113.7L191.0 113.7L191.8 113.7L192.6 113.7L193.4 113.7L194.2 113.6L195.0 113.7L195.8 113.7L196.6 113.7L197.4 113.6L198.2 113.7L199.0 113.7L199.8 113.7L200.6 113.7L201.4 113.7L202.2 113.7L203.0 113.7L203.8 113.7L204.6 113.7L205.4 113.6L206.2 113.7L207.0 113.6L207.8 113.6L208.6 113.7L209.4 113.7L210.2 113.7L211.0 113.6L211.8 113.7L212.6 113.7L213.4 113.6L214.2 113.7L215.0 113.7L215.8 113.7L216.6 113.7L217.4 113.7L218.2 113.7L219.0 113.7L219.8 113.7L220.6 113.7L221.4 113.6L222.2 113.7L223.0 113.7L223.8 113.6L224.6 113.7L225.4 113.6L226.2 113.7L227.0 113.7L227.8 113.6L228.6 113.6L229.4 113.6L230.2 113.7L231.0 113.7L231.8 113.6L232.6 113.6L233.4 113.6L234.2 113.7L235.0 113.6L235.8 113.6L236.6 113.5L237.4 113.7L238.2 113.5L239.0 113.6L239.8 113.6L240.6 113.7L241.4 113.7L242.2 113.7L243.0 113.6L243.8 113.7L244.6 113.5L245.4 113.5L246.2 113.5L247.0 113.5L247.8 113.6L248.6 113.5L249.4 113.7L250.2 113.6L251.0 113.4L251.8 113.5L252.6 113.3L253.4 113.5L254.2 113.6L255.0 113.3L255.8 113.4L256.6 113.5L257.4 113.4L258.2 113.5L259.0 113.4L259.8 113.3L260.6 113.5L261.4 113.4L262.2 113.4L263.0 113.3L263.8 113.2L264.6 113.1L265.4 113.2L266.2 113.3L267.0 113.1L267.8 112.9L268.6 112.9L269.4 112.4L270.2 112.9L271.0 113.0L271.8 112.9L272.6 112.5L273.4 112.9L274.2 112.7L275.0 113.0L275.8 112.5L276.6 112.1L276.8 112.0L277.1 112.1L277.3 111.9L277.6 112.4L277.8 111.6L278.1 111.5L278.3 112.6L278.6 112.4L278.8 111.7L279.1 111.6L279.3 111.3L279.6 111.6L279.8 112.0L280.1 111.8L280.3 110.8L280.6 111.3L280.8 111.9L281.1 111.1L281.3 110.5L281.6 110.6L281.8 110.1L282.1 110.0L282.3 109.9L282.6 110.2L282.8 109.3L283.1 108.5L283.3 108.9L283.6 107.4L283.8 106.3L284.1 106.4L284.3 106.1L284.6 105.6L284.8 105.5L285.1 102.8L285.3 103.4L285.6 102.7L285.8 99.4L286.1 98.9L286.3 99.1L286.6 96.9L286.8 95.3L287.1 93.1L287.3 94.6L287.6 91.7L287.8 90.4L288.1 86.4L288.3 85.4L288.6 81.6L288.8 77.1L289.1 76.7L289.3 76.4L289.6 72.5L289.8 69.1L290.1 70.1L290.3 62.2L290.6 61.1L290.8 57.3L291.1 53.6L291.3 52.7L291.6 47.8L291.8 46.8L292.1 47.4L292.3 42.7L292.6 40.5L292.8 36.4L293.1 32.0L293.3 37.4L293.6 32.4L293.8 32.4L294.1 29.0L294.3 26.5L294.6 27.9L294.8 30.8L295.1 26.6L295.3 28.1L295.6 28.5L295.8 27.0L296.1 26.6L296.3 27.1L296.6 28.8L296.8 36.5L297.1 35.2L297.3 34.4L297.6 37.3L297.8 39.6L298.1 38.4L298.3 45.9L298.6 45.7L298.8 46.6L299.1 55.1L299.3 53.7L299.6 57.3L299.8 60.8L300.1 58.5L300.3 66.4L300.6 66.7L300.8 72.2L301.1 74.9L301.3 75.7L301.6 76.8L301.8 81.2L302.1 82.5L302.3 85.8L302.6 86.4L302.8 89.6L303.1 91.5L303.3 92.8L303.6 94.8L303.8 96.9L304.1 98.9L304.3 99.8L304.6 101.6L304.8 101.3L305.1 103.6L305.3 103.9L305.6 105.9L305.8 106.0L306.1 108.1L306.3 108.2L306.6 107.7L306.8 108.9L307.1 110.6L307.3 110.2L307.6 110.5L307.8 111.1L308.1 111.7L308.3 111.9L308.6 111.0L308.8 112.0L309.1 111.8L309.3 112.0L309.6 112.6L309.8 112.4L310.6 112.8L311.4 113.2L312.2 113.1L313.0 113.2L313.8 113.2L314.6 113.4L315.4 113.4L316.2 113.4L317.0 113.5L317.8 113.3L318.6 113.4L319.4 113.5L320.2 113.5L321.0 113.4L321.8 113.5L322.6 113.6L323.4 113.5L324.2 113.3L325.0 113.3L325.8 113.5L326.6 113.6L327.4 113.2L328.2 113.5L329.0 113.5L329.8 113.6L330.6 113.6L331.4 113.6L332.2 113.6L333.0 113.6L333.8 113.6L334.6 113.6L335.4 113.6L336.2 113.7L337.0 113.6L337.8 113.7L338.6 113.6L339.4 113.7L340.2 113.6L341.0 113.6L341.8 113.7L342.6 113.7L343.4 113.7L344.2 113.5L345.0 113.7L345.8 113.7L346.6 113.7L347.4 113.6L348.2 113.7L349.0 113.7L349.8 113.6L350.6 113.6L351.4 113.5L352.2 113.7L353.0 113.7L353.8 113.7L354.6 113.6L355.4 113.6L356.2 113.6L357.0 113.7L357.8 113.6L358.6 113.7L359.4 113.7L360.2 113.7L361.0 113.7L361.8 113.7L362.6 113.6L363.4 113.7L364.2 113.7L365.0 113.7L365.8 113.7L366.6 113.6L367.4 113.7L368.2 113.7L369.0 113.7L369.8 113.7L370.6 113.7L371.4 113.7L372.2 113.6L373.0 113.7L373.8 113.6L374.6 113.7L375.4 113.7L376.2 113.7L377.0 113.7L377.8 113.7L378.6 113.7L379.4 113.7L380.2 113.6L381.0 113.7L381.8 113.7L382.6 113.6L383.4 113.7L384.2 113.7L385.0 113.7L385.8 113.7L386.6 113.7L387.4 113.7L388.2 113.6" fill="none" stroke="#0000ff" stroke-width="1.25" stroke-opacity="0.85" stroke-linejoin="round"/><text x="140.5" y="129.6" text-anchor="middle" fill="#545454">16000</text><text x="194.1" y="129.6" text-anchor="middle" fill="#545454">16500</text><text x="247.8" y="129.6" text-anchor="middle" fill="#545454">17000</text><text x="301.5" y="129.6" text-anchor="middle" fill="#545454">17500</text><text x="355.2" y="129.6" text-anchor="middle" fill="#545454">18000</text><text x="100.1" y="117.6" text-anchor="end" fill="#545454">0</text><text x="100.1" y="93.6" text-anchor="end" fill="#545454">250</text><text x="100.1" y="69.6" text-anchor="end" fill="#545454">500</text><text x="100.1" y="45.6" text-anchor="end" fill="#545454">750</text><text x="100.1" y="21.6" text-anchor="end" fill="#545454">1000</text><rect x="287.4" y="27.6" width="13.6" height="10.6" fill="#fffff4" stroke="#ccc" stroke-width="0.8"/><rect x="288.8" y="29.2" width="11" height="7.6" fill="#0000ff"/><text x="305.4" y="36.8" fill="#888">aida01 1.8.L</text><path d="M388.2 6.800000000000001L399.4 18L388.2 29.2L377.0 18Z" fill="#ff0000"/></svg></div>
<div class="cell" style="left:959px;top:274px;width:474px;height:135px"><svg width="474" height="135" viewBox="0 0 474 135" font-family="DejaVu Serif, Liberation Serif, serif" font-size="11.4" letter-spacing="0.38"><path d="M140.25 17.75V113.70M193.93 17.75V113.70M247.61 17.75V113.70M301.29 17.75V113.70M354.97 17.75V113.70M103.75 113.70H388.25M103.75 75.17H388.25M103.75 36.63H388.25" stroke="#545454" stroke-opacity="0.18" stroke-width="1" fill="none"/><rect x="102.88" y="16.88" width="286.25" height="97.62" fill="none" stroke="#808080" stroke-width="1.75"/><path d="M103.8 113.7L104.6 113.7L105.4 113.7L106.2 113.7L107.0 113.6L107.8 113.6L108.6 113.7L109.4 113.6L110.2 113.7L111.0 113.7L111.8 113.6L112.6 113.7L113.4 113.6L114.2 113.6L115.0 113.7L115.8 113.7L116.6 113.6L117.4 113.7L118.2 113.7L119.0 113.7L119.8 113.7L120.6 113.7L121.4 113.6L122.2 113.7L123.0 113.7L123.8 113.6L124.6 113.7L125.4 113.6L126.2 113.7L127.0 113.7L127.8 113.6L128.6 113.6L129.4 113.7L130.2 113.6L131.0 113.6L131.8 113.7L132.6 113.7L133.4 113.7L134.2 113.7L135.0 113.7L135.8 113.6L136.6 113.6L137.4 113.6L138.2 113.6L139.0 113.6L139.8 113.7L140.6 113.7L141.4 113.7L142.2 113.6L143.0 113.6L143.8 113.6L144.6 113.7L145.4 113.7L146.2 113.5L147.0 113.6L147.8 113.5L148.6 113.7L149.4 113.6L150.2 113.5L151.0 113.4L151.8 113.6L152.6 113.6L153.4 113.6L154.2 113.5L155.0 113.6L155.8 113.5L156.6 113.5L157.4 113.4L158.2 113.5L159.0 113.6L159.8 113.6L160.6 113.4L161.4 113.7L162.2 113.6L163.0 113.4L163.8 113.2L164.6 113.6L165.4 113.4L166.2 113.3L167.0 113.3L167.8 113.0L168.6 113.2L169.4 113.3L170.2 113.0L171.0 113.0L171.8 113.0L172.6 113.2L173.4 112.9L174.2 112.6L175.0 112.9L175.8 112.7L176.6 113.1L177.4 112.8L178.2 112.7L179.0 112.2L179.2 111.9L179.5 112.4L179.7 111.9L180.0 111.9L180.2 112.2L180.5 111.7L180.7 111.7L181.0 111.4L181.2 111.6L181.5 110.9L181.7 110.6L182.0 110.5L182.2 110.5L182.5 110.6L182.7 110.0L183.0 108.5L183.2 108.4L183.5 108.1L183.7 106.6L184.0 106.1L184.2 106.1L184.5 104.7L184.7 103.0L185.0 102.1L185.2 101.4L185.5 100.2L185.7 100.8L186.0 97.0L186.2 96.4L186.5 91.4L186.7 89.3L187.0 88.4L187.2 85.9L187.5 84.0L187.7 79.9L188.0 76.6L188.2 73.7L188.5 68.9L188.7 66.8L189.0 64.4L189.2 60.5L189.5 59.1L189.7 56.2L190.0 49.0L190.2 51.0L190.5 48.4L190.7 44.7L191.0 39.3L191.2 40.3L191.5 35.0L191.7 29.1L192.0 31.0L192.2 27.6L192.5 32.1L192.7 28.7L193.0 28.9L193.2 27.5L193.5 26.9L193.7 27.9L194.0 26.5L194.2 26.8L194.5 32.9L194.7 31.7L195.0 28.8L195.2 38.0L195.5 38.3L195.7 40.0L196.0 44.9L196.2 47.1L196.5 48.8L196.7 52.4L197.0 54.7L197.2 59.0L197.5 59.2L197.7 68.4L198.0 69.4L198.2 71.4L198.5 74.4L198.7 77.6L199.0 81.2L199.2 84.6L199.5 83.5L199.7 88.4L200.0 90.5L200.2 94.8L200.5 94.9L200.7 95.6L201.0 97.6L201.2 99.6L201.5 101.8L201.7 101.4L202.0 102.5L202.2 105.2L202.5 105.4L202.7 105.7L203.0 107.4L203.2 107.6L203.5 109.9L203.7 110.3L204.0 109.9L204.2 110.0L204.5 110.9L204.7 110.8L205.0 111.2L205.2 111.3L205.5 111.9L205.7 111.8L206.0 112.1L206.2 112.4L206.5 112.5L207.3 112.7L208.1 112.6L208.9 112.9L209.7 113.0L210.5 113.5L211.3 113.0L212.1 113.1L212.9 113.4L213.7 113.1L214.5 113.5L215.3 113.4L216.1 113.5L216.9 113.5L217.7 113.6L218.5 113.5L219.3 113.6L220.1 113.6L220.9 113.4L221.7 113.5L222.5 113.5L223.3 113.7L224.1 113.6L224.9 113.6L225.7 113.6L226.5 113.6L227.3 113.6L228.1 113.7L228.9 113.5L229.7 113.6L230.5 113.7L231.3 113.6L232.1 113.6L232.9 113.6L233.7 113.5L234.5 113.6L235.3 113.6L236.1 113.6L236.9 113.7L237.7 113.7L238.5 113.6L239.3 113.6L240.1 113.7L240.9 113.6L241.7 113.6L242.5 113.6L243.3 113.7L244.1 113.7L244.9 113.6L245.7 113.6L246.5 113.6L247.3 113.7L248.1 113.6L248.9 113.6L249.7 113.6L250.5 113.6L251.3 113.7L252.1 113.6L252.9 113.7L253.7 113.6L254.5 113.7L255.3 113.6L256.1 113.6L256.9 113.7L257.7 113.7L258.5 113.6L259.3 113.7L260.1 113.6L260.9 113.6L261.7 113.6L262.5 113.7L263.3 113.7L264.1 113.6L264.9 113.6L265.7 113.6L266.5 113.7L267.3 113.7L268.1 113.6L268.9 113.7L269.7 113.7L270.5 113.6L271.3 113.7L272.1 113.7L272.9 113.7L273.7 113.6L274.5 113.7L275.3 113.7L276.1 113.7L276.9 113.7L277.7 113.7L278.5 113.7L279.3 113.7L280.1 113.6L280.9 113.7L281.7 113.7L282.5 113.7L283.3 113.6L284.1 113.6L284.9 113.7L285.7 113.7L286.5 113.7L287.3 113.7L288.1 113.7L288.9 113.7L289.7 113.7L290.5 113.7L291.3 113.7L292.1 113.7L292.9 113.7L293.7 113.7L294.5 113.7L295.3 113.7L296.1 113.6L296.9 113.7L297.7 113.6L298.5 113.7L299.3 113.7L300.1 113.7L300.9 113.7L301.7 113.7L302.5 113.7L303.3 113.7L304.1 113.7L304.9 113.7L305.7 113.7L306.5 113.6L307.3 113.6L308.1 113.7L308.9 113.7L309.7 113.7L310.5 113.7L311.3 113.7L312.1 113.7L312.9 113.7L313.7 113.7L314.5 113.6L315.3 113.6L316.1 113.7L316.9 113.7L317.7 113.7L318.5 113.7L319.3 113.7L320.1 113.7L320.9 113.7L321.7 113.7L322.5 113.6L323.3 113.7L324.1 113.7L324.9 113.6L325.7 113.7L326.5 113.7L327.3 113.7L328.1 113.7L328.9 113.7L329.7 113.7L330.5 113.7L331.3 113.7L332.1 113.6L332.9 113.7L333.7 113.7L334.5 113.7L335.3 113.7L336.1 113.7L336.9 113.7L337.7 113.7L338.5 113.7L339.3 113.7L340.1 113.7L340.9 113.6L341.7 113.7L342.5 113.7L343.3 113.7L344.1 113.7L344.9 113.7L345.7 113.7L346.5 113.6L347.3 113.7L348.1 113.7L348.9 113.7L349.7 113.7L350.5 113.7L351.3 113.7L352.1 113.7L352.9 113.7L353.7 113.7L354.5 113.7L355.3 113.7L356.1 113.7L356.9 113.7L357.7 113.7L358.5 113.6L359.3 113.7L360.1 113.7L360.9 113.7L361.7 113.7L362.5 113.7L363.3 113.7L364.1 113.7L364.9 113.7L365.7 113.7L366.5 113.7L367.3 113.7L368.1 113.7L368.9 113.7L369.7 113.7L370.5 113.7L371.3 113.7L372.1 113.7L372.9 113.7L373.7 113.7L374.5 113.7L375.3 113.7L376.1 113.7L376.9 113.7L377.7 113.7L378.5 113.7L379.3 113.7L380.1 113.7L380.9 113.7L381.7 113.7L382.5 113.7L383.3 113.7L384.1 113.7L384.9 113.7L385.7 113.7L386.5 113.7L387.3 113.7L388.1 113.7" fill="none" stroke="#0000ff" stroke-width="1.25" stroke-opacity="0.85" stroke-linejoin="round"/><text x="140.5" y="129.6" text-anchor="middle" fill="#545454">16000</text><text x="194.1" y="129.6" text-anchor="middle" fill="#545454">16500</text><text x="247.8" y="129.6" text-anchor="middle" fill="#545454">17000</text><text x="301.5" y="129.6" text-anchor="middle" fill="#545454">17500</text><text x="355.2" y="129.6" text-anchor="middle" fill="#545454">18000</text><text x="100.1" y="117.6" text-anchor="end" fill="#545454">0</text><text x="100.1" y="78.6" text-anchor="end" fill="#545454">500</text><text x="100.1" y="40.6" text-anchor="end" fill="#545454">1000</text><rect x="287.4" y="27.6" width="13.6" height="10.6" fill="#fffff4" stroke="#ccc" stroke-width="0.8"/><rect x="288.8" y="29.2" width="11" height="7.6" fill="#0000ff"/><text x="305.4" y="36.8" fill="#888">aida10 1.8.L</text><path d="M388.2 6.800000000000001L399.4 18L388.2 29.2L377.0 18Z" fill="#ff0000"/></svg></div>
<div class="cell" style="left:1435px;top:274px;width:474px;height:135px"></div>
<div class="cell" style="left:7px;top:411px;width:474px;height:134px"><svg width="474" height="134" viewBox="0 0 474 134" font-family="DejaVu Serif, Liberation Serif, serif" font-size="11.4" letter-spacing="0.38"><path d="M140.25 17.75V112.70M193.93 17.75V112.70M247.61 17.75V112.70M301.29 17.75V112.70M354.97 17.75V112.70M103.75 112.70H388.25M103.75 79.22H388.25M103.75 45.74H388.25" stroke="#545454" stroke-opacity="0.18" stroke-width="1" fill="none"/><rect x="102.88" y="16.88" width="286.25" height="96.62" fill="none" stroke="#808080" stroke-width="1.75"/><path d="M103.8 112.7L104.6 112.6L105.4 112.7L106.2 112.7L107.0 112.7L107.8 112.7L108.6 112.7L109.4 112.7L110.2 112.7L111.0 112.7L111.8 112.7L112.6 112.7L113.4 112.7L114.2 112.6L115.0 112.7L115.8 112.7L116.6 112.7L117.4 112.7L118.2 112.7L119.0 112.7L119.8 112.7L120.6 112.7L121.4 112.7L122.2 112.6L123.0 112.7L123.8 112.7L124.6 112.7L125.4 112.7L126.2 112.7L127.0 112.7L127.8 112.7L128.6 112.7L129.4 112.7L130.2 112.7L131.0 112.7L131.8 112.7L132.6 112.7L133.4 112.7L134.2 112.7L135.0 112.6L135.8 112.7L136.6 112.7L137.4 112.7L138.2 112.7L139.0 112.7L139.8 112.6L140.6 112.7L141.4 112.7L142.2 112.7L143.0 112.7L143.8 112.7L144.6 112.7L145.4 112.7L146.2 112.7L147.0 112.7L147.8 112.7L148.6 112.7L149.4 112.7L150.2 112.6L151.0 112.7L151.8 112.7L152.6 112.7L153.4 112.7L154.2 112.7L155.0 112.7L155.8 112.7L156.6 112.7L157.4 112.7L158.2 112.7L159.0 112.6L159.8 112.7L160.6 112.7L161.4 112.7L162.2 112.7L163.0 112.7L163.8 112.7L164.6 112.7L165.4 112.6L166.2 112.7L167.0 112.7L167.8 112.7L168.6 112.7L169.4 112.7L170.2 112.7L171.0 112.7L171.8 112.7L172.6 112.7L173.4 112.7L174.2 112.7L175.0 112.7L175.8 112.7L176.6 112.7L177.4 112.7L178.2 112.7L179.0 112.7L179.8 112.6L180.6 112.7L181.4 112.7L182.2 112.7L183.0 112.7L183.8 112.7L184.6 112.7L185.4 112.7L186.2 112.7L187.0 112.7L187.8 112.7L188.6 112.7L189.4 112.7L190.2 112.7L191.0 112.7L191.8 112.7L192.6 112.7L193.4 112.6L194.2 112.7L195.0 112.6L195.8 112.7L196.6 112.6L197.4 112.6L198.2 112.7L199.0 112.7L199.8 112.7L200.6 112.7L201.4 112.7L202.2 112.7L203.0 112.6L203.8 112.6L204.6 112.7L205.4 112.7L206.2 112.7L207.0 112.7L207.8 112.7L208.6 112.7L209.4 112.7L210.2 112.6L211.0 112.7L211.8 112.6L212.6 112.7L213.4 112.7L214.2 112.7L215.0 112.7L215.8 112.7L216.6 112.7L217.4 112.7L218.2 112.6L219.0 112.6L219.8 112.6L220.6 112.6L221.4 112.7L222.2 112.7L223.0 112.7L223.8 112.6L224.6 112.6L225.4 112.6L226.2 112.7L227.0 112.6L227.8 112.6L228.6 112.5L229.4 112.7L230.2 112.5L231.0 112.7L231.8 112.6L232.6 112.6L233.4 112.7L234.2 112.6L235.0 112.7L235.8 112.5L236.6 112.5L237.4 112.6L238.2 112.7L239.0 112.7L239.8 112.5L240.6 112.6L241.4 112.5L242.2 112.6L243.0 112.7L243.8 112.3L244.6 112.4L245.4 112.5L246.2 112.5L247.0 112.3L247.8 112.3L248.6 112.5L249.4 112.2L250.2 112.4L251.0 112.3L251.8 112.5L252.6 112.4L253.4 112.1L254.2 112.4L255.0 112.2L255.8 112.1L256.6 112.2L257.4 111.8L258.2 111.9L259.0 112.0L259.8 111.7L260.6 111.5L261.4 111.5L262.2 111.6L263.0 111.3L263.8 111.1L264.0 111.4L264.3 111.1L264.5 110.2L264.8 110.9L265.0 110.3L265.3 109.6L265.5 110.0L265.8 109.6L266.0 109.5L266.3 108.5L266.5 108.8L266.8 107.4L267.0 107.4L267.3 106.0L267.5 106.3L267.8 104.9L268.0 102.5L268.3 101.4L268.5 102.6L268.8 97.6L269.0 97.7L269.3 94.2L269.5 91.9L269.8 90.7L270.0 88.4L270.3 87.5L270.5 82.0L270.8 77.2L271.0 77.9L271.3 71.5L271.5 68.5L271.8 64.6L272.0 64.0L272.3 59.0L272.5 54.8L272.8 48.8L273.0 49.8L273.3 45.7L273.5 43.0L273.8 37.1L274.0 38.8L274.3 33.8L274.5 33.8L274.8 30.2L275.0 26.7L275.3 28.2L275.5 27.0L275.8 27.3L276.0 26.8L276.3 27.7L276.5 30.3L276.8 29.3L277.0 30.8L277.3 35.8L277.5 35.6L277.8 39.5L278.0 43.5L278.3 45.8L278.5 48.1L278.8 51.8L279.0 54.2L279.3 59.8L279.5 63.5L279.8 69.5L280.0 71.6L280.3 73.6L280.5 79.0L280.8 81.9L281.0 81.7L281.3 86.7L281.5 90.4L281.8 93.8L282.0 94.8L282.3 94.2L282.5 98.1L282.8 99.4L283.0 100.9L283.3 103.1L283.5 103.9L283.8 105.2L284.0 106.4L284.3 106.6L284.5 108.2L284.8 108.8L285.0 109.3L285.3 109.1L285.5 110.1L285.8 109.7L286.0 111.0L286.3 111.2L286.5 111.8L286.8 111.5L287.0 111.4L287.8 111.7L288.6 112.2L289.4 112.2L290.2 112.0L291.0 112.3L291.8 112.3L292.6 112.3L293.4 112.5L294.2 112.3L295.0 112.4L295.8 112.4L296.6 112.5L297.4 112.5L298.2 112.4L299.0 112.5L299.8 112.7L300.6 112.6L301.4 112.6L302.2 112.6L303.0 112.5L303.8 112.7L304.6 112.4L305.4 112.6L306.2 112.5L307.0 112.6L307.8 112.6L308.6 112.6L309.4 112.6L310.2 112.6L311.0 112.5L311.8 112.5L312.6 112.5L313.4 112.7L314.2 112.6L315.0 112.6L315.8 112.6L316.6 112.6L317.4 112.6L318.2 112.7L319.0 112.7L319.8 112.6L320.6 112.7L321.4 112.6L322.2 112.7L323.0 112.7L323.8 112.6L324.6 112.7L325.4 112.6L326.2 112.7L327.0 112.6L327.8 112.6L328.6 112.7L329.4 112.7L330.2 112.7L331.0 112.6L331.8 112.6L332.6 112.6L333.4 112.7L334.2 112.6L335.0 112.7L335.8 112.7L336.6 112.6L337.4 112.7L338.2 112.7L339.0 112.7L339.8 112.7L340.6 112.7L341.4 112.7L342.2 112.7L343.0 112.7L343.8 112.7L344.6 112.7L345.4 112.7L346.2 112.7L347.0 112.7L347.8 112.7L348.6 112.7L349.4 112.7L350.2 112.7L351.0 112.7L351.8 112.7L352.6 112.6L353.4 112.7L354.2 112.7L355.0 112.7L355.8 112.7L356.6 112.7L357.4 112.7L358.2 112.6L359.0 112.6L359.8 112.6L360.6 112.7L361.4 112.7L362.2 112.7L363.0 112.7L363.8 112.7L364.6 112.7L365.4 112.7L366.2 112.7L367.0 112.7L367.8 112.7L368.6 112.7L369.4 112.7L370.2 112.6L371.0 112.7L371.8 112.7L372.6 112.7L373.4 112.7L374.2 112.6L375.0 112.7L375.8 112.7L376.6 112.6L377.4 112.7L378.2 112.7L379.0 112.6L379.8 112.7L380.6 112.7L381.4 112.7L382.2 112.7L383.0 112.7L383.8 112.7L384.6 112.7L385.4 112.7L386.2 112.7L387.0 112.7L387.8 112.7" fill="none" stroke="#0000ff" stroke-width="1.25" stroke-opacity="0.85" stroke-linejoin="round"/><text x="140.5" y="128.6" text-anchor="middle" fill="#545454">16000</text><text x="194.1" y="128.6" text-anchor="middle" fill="#545454">16500</text><text x="247.8" y="128.6" text-anchor="middle" fill="#545454">17000</text><text x="301.5" y="128.6" text-anchor="middle" fill="#545454">17500</text><text x="355.2" y="128.6" text-anchor="middle" fill="#545454">18000</text><text x="100.1" y="116.6" text-anchor="end" fill="#545454">0</text><text x="100.1" y="83.6" text-anchor="end" fill="#545454">500</text><text x="100.1" y="49.6" text-anchor="end" fill="#545454">1000</text><rect x="287.4" y="26.6" width="13.6" height="10.6" fill="#fffff4" stroke="#ccc" stroke-width="0.8"/><rect x="288.8" y="28.2" width="11" height="7.6" fill="#0000ff"/><text x="305.4" y="36.8" fill="#888">aida11 1.8.L</text><path d="M388.2 6.800000000000001L399.4 18L388.2 29.2L377.0 18Z" fill="#ff0000"/></svg></div>
<div class="cell" style="left:483px;top:411px;width:474px;height:134px"><svg width="474" height="134" viewBox="0 0 474 134" font-family="DejaVu Serif, Liberation Serif, serif" font-size="11.4" letter-spacing="0.38"><path d="M140.25 17.75V112.70M193.93 17.75V112.70M247.61 17.75V112.70M301.29 17.75V112.70M354.97 17.75V112.70M103.75 112.70H388.25M103.75 85.42H388.25M103.75 58.13H388.25M103.75 30.85H388.25" stroke="#545454" stroke-opacity="0.18" stroke-width="1" fill="none"/><rect x="102.88" y="16.88" width="286.25" height="96.62" fill="none" stroke="#808080" stroke-width="1.75"/><path d="M103.8 112.6L104.6 112.6L105.4 112.7L106.2 112.6L107.0 112.7L107.8 112.6L108.6 112.7L109.4 112.6L110.2 112.6L111.0 112.6L111.8 112.7L112.6 112.7L113.4 112.7L114.2 112.7L115.0 112.5L115.8 112.7L116.6 112.6L117.4 112.6L118.2 112.6L119.0 112.7L119.8 112.6L120.6 112.5L121.4 112.5L122.2 112.7L123.0 112.6L123.8 112.6L124.6 112.4L125.4 112.6L126.2 112.6L127.0 112.5L127.8 112.7L128.6 112.6L129.4 112.7L130.2 112.6L131.0 112.7L131.8 112.6L132.6 112.5L133.4 112.5L134.2 112.6L135.0 112.6L135.8 112.6L136.6 112.7L137.4 112.6L138.2 112.5L139.0 112.6L139.8 112.7L140.6 112.7L141.4 112.5L142.2 112.5L143.0 112.5L143.8 112.7L144.6 112.6L145.4 112.7L146.2 112.4L147.0 112.5L147.8 112.7L148.6 112.5L149.4 112.5L150.2 112.5L151.0 112.5L151.8 112.6L152.6 112.6L153.4 112.4L154.2 112.3L155.0 112.6L155.8 112.7L156.6 112.4L157.4 112.7L158.2 112.7L159.0 112.5L159.8 112.3L160.6 112.3L161.4 112.3L162.2 112.6L163.0 112.4L163.8 112.5L164.6 112.5L165.4 112.4L166.2 112.6L167.0 112.3L167.8 112.3L168.6 112.3L169.4 112.3L170.2 112.5L171.0 112.0L171.8 111.9L172.6 112.3L173.4 112.3L174.2 112.4L175.0 112.3L175.8 112.1L176.6 112.0L177.4 112.3L178.2 112.3L179.0 112.4L179.8 112.1L180.6 112.2L181.4 112.0L182.2 112.0L183.0 112.4L183.8 112.2L184.6 111.8L185.4 112.1L186.2 112.0L187.0 112.2L187.8 111.5L188.6 111.6L189.4 111.7L190.2 111.4L191.0 111.1L191.8 111.0L192.6 111.5L192.8 111.4L193.1 111.2L193.3 111.0L193.6 111.9L193.8 111.2L194.1 111.8L194.3 110.8L194.6 111.2L194.8 110.9L195.1 111.2L195.3 110.5L195.6 110.8L195.8 111.2L196.1 111.6L196.3 110.8L196.6 110.7L196.8 111.0L197.1 110.9L197.3 111.0L197.6 110.3L197.8 110.2L198.1 110.9L198.3 111.0L198.6 110.4L198.8 111.2L199.1 110.6L199.3 110.4L199.6 110.4L199.8 109.7L200.1 110.7L200.3 110.0L200.6 110.1L200.8 110.2L201.1 109.8L201.3 109.9L201.6 109.8L201.8 110.1L202.1 110.3L202.3 109.1L202.6 109.2L202.8 109.4L203.1 109.9L203.3 109.1L203.6 110.1L203.8 109.5L204.1 109.2L204.3 109.3L204.6 110.0L204.8 107.9L205.1 109.5L205.3 107.8L205.6 107.1L205.8 107.8L206.1 107.8L206.3 108.7L206.6 107.9L206.8 108.8L207.1 107.5L207.3 106.8L207.6 108.0L207.8 106.7L208.1 106.7L208.3 104.7L208.6 105.2L208.8 104.4L209.1 104.6L209.3 103.7L209.6 103.3L209.8 103.8L210.1 101.2L210.3 101.6L210.6 101.8L210.8 99.9L211.1 98.2L211.3 97.0L211.6 95.8L211.8 95.3L212.1 94.6L212.3 93.7L212.6 93.4L212.8 89.4L213.1 89.1L213.3 86.3L213.6 86.8L213.8 84.4L214.1 81.7L214.3 81.7L214.6 78.6L214.8 76.7L215.1 73.9L215.3 74.6L215.6 72.0L215.8 70.2L216.1 65.5L216.3 64.6L216.6 54.9L216.8 59.3L217.1 51.5L217.3 50.5L217.6 50.8L217.8 46.8L218.1 48.4L218.3 43.8L218.6 40.6L218.8 32.7L219.1 38.3L219.3 35.7L219.6 31.8L219.8 30.3L220.1 35.3L220.3 26.9L220.6 28.2L220.8 27.9L221.1 26.5L221.3 27.7L221.6 29.1L221.8 26.9L222.1 28.3L222.3 27.9L222.6 26.6L222.8 29.0L223.1 28.1L223.3 29.6L223.6 34.0L223.8 30.5L224.1 37.0L224.3 42.1L224.6 40.5L224.8 41.9L225.1 43.2L225.3 46.3L225.6 48.9L225.8 45.6L226.1 55.5L226.3 56.2L226.6 57.4L226.8 59.0L227.1 63.2L227.3 63.2L227.6 68.0L227.8 67.3L228.1 74.5L228.3 73.6L228.6 75.5L228.8 79.7L229.1 80.4L229.3 81.9L229.6 85.0L229.8 86.4L230.1 87.3L230.3 88.4L230.6 89.5L230.8 92.3L231.1 92.7L231.3 94.1L231.6 95.3L231.8 97.3L232.1 101.2L232.3 98.6L232.6 100.4L232.8 101.8L233.1 103.2L233.3 103.5L233.6 104.5L233.8 105.8L234.1 105.8L234.3 105.3L234.6 106.6L234.8 106.6L235.1 105.4L235.3 107.2L235.6 107.0L235.8 108.4L236.1 108.0L236.3 108.8L236.6 108.8L236.8 109.7L237.1 109.0L237.3 109.0L237.6 109.9L237.8 109.6L238.1 109.4L238.3 109.8L238.6 109.7L238.8 110.2L239.1 109.8L239.3 109.6L239.6 110.6L239.8 110.0L240.1 110.7L240.3 110.4L240.6 110.2L240.8 111.1L241.1 111.9L241.3 110.7L241.6 110.2L241.8 110.5L242.1 111.0L242.3 111.1L242.6 111.0L242.8 111.1L243.1 111.2L243.3 111.0L243.6 111.7L243.8 110.9L244.1 111.8L244.3 110.7L244.6 111.0L244.8 111.5L245.1 112.1L245.3 111.1L245.6 111.6L245.8 111.3L246.6 111.6L247.4 111.2L248.2 111.7L249.0 111.6L249.8 112.0L250.6 112.0L251.4 111.9L252.2 111.8L253.0 112.2L253.8 111.9L254.6 111.6L255.4 112.2L256.2 112.2L257.0 112.0L257.8 112.3L258.6 112.2L259.4 112.4L260.2 112.3L261.0 112.1L261.8 112.3L262.6 112.3L263.4 112.2L264.2 112.1L265.0 112.3L265.8 112.4L266.6 112.3L267.4 112.5L268.2 112.3L269.0 112.4L269.8 112.2L270.6 112.6L271.4 112.3L272.2 112.6L273.0 112.5L273.8 112.1L274.6 112.4L275.4 112.2L276.2 112.5L277.0 112.4L277.8 112.6L278.6 112.4L279.4 112.4L280.2 112.6L281.0 112.5L281.8 112.5L282.6 112.3L283.4 112.4L284.2 112.4L285.0 112.6L285.8 112.4L286.6 112.3L287.4 112.5L288.2 112.5L289.0 112.5L289.8 112.5L290.6 112.7L291.4 112.6L292.2 112.5L293.0 112.7L293.8 112.4L294.6 112.6L295.4 112.6L296.2 112.4L297.0 112.5L297.8 112.6L298.6 112.5L299.4 112.5L300.2 112.5L301.0 112.4L301.8 112.6L302.6 112.5L303.4 112.6L304.2 112.6L305.0 112.5L305.8 112.5L306.6 112.6L307.4 112.6L308.2 112.6L309.0 112.7L309.8 112.6L310.6 112.6L311.4 112.5L312.2 112.7L313.0 112.5L313.8 112.5L314.6 112.6L315.4 112.6L316.2 112.7L317.0 112.4L317.8 112.7L318.6 112.6L319.4 112.6L320.2 112.7L321.0 112.6L321.8 112.6L322.6 112.6L323.4 112.5L324.2 112.5L325.0 112.7L325.8 112.6L326.6 112.5L327.4 112.7L328.2 112.5L329.0 112.5L329.8 112.6L330.6 112.6L331.4 112.7L332.2 112.7L333.0 112.7L333.8 112.6L334.6 112.7L335.4 112.7L336.2 112.7L337.0 112.6L337.8 112.5L338.6 112.6L339.4 112.6L340.2 112.7L341.0 112.6L341.8 112.6L342.6 112.6L343.4 112.7L344.2 112.7L345.0 112.7L345.8 112.7L346.6 112.6L347.4 112.6L348.2 112.6L349.0 112.7L349.8 112.7L350.6 112.7L351.4 112.7L352.2 112.6L353.0 112.6L353.8 112.6L354.6 112.7L355.4 112.6L356.2 112.7L357.0 112.6L357.8 112.7L358.6 112.6L359.4 112.7L360.2 112.7L361.0 112.7L361.8 112.6L362.6 112.7L363.4 112.7L364.2 112.7L365.0 112.5L365.8 112.6L366.6 112.6L367.4 112.7L368.2 112.5L369.0 112.6L369.8 112.6L370.6 112.7L371.4 112.7L372.2 112.6L373.0 112.6L373.8 112.7L374.6 112.6L375.4 112.7L376.2 112.7L377.0 112.7L377.8 112.7L378.6 112.6L379.4 112.6L380.2 112.7L381.0 112.7L381.8 112.6L382.6 112.7L383.4 112.7L384.2 112.7L385.0 112.6L385.8 112.6L386.6 112.6L387.4 112.6L388.2 112.6" fill="none" stroke="#0000ff" stroke-width="1.25" stroke-opacity="0.85" stroke-linejoin="round"/><text x="140.5" y="128.6" text-anchor="middle" fill="#545454">16000</text><text x="194.1" y="128.6" text-anchor="middle" fill="#545454">16500</text><text x="247.8" y="128.6" text-anchor="middle" fill="#545454">17000</text><text x="301.5" y="128.6" text-anchor="middle" fill="#545454">17500</text><text x="355.2" y="128.6" text-anchor="middle" fill="#545454">18000</text><text x="100.1" y="116.6" text-anchor="end" fill="#545454">0</text><text x="100.1" y="89.6" text-anchor="end" fill="#545454">250</text><text x="100.1" y="61.6" text-anchor="end" fill="#545454">500</text><text x="100.1" y="34.6" text-anchor="end" fill="#545454">750</text><rect x="287.4" y="26.6" width="13.6" height="10.6" fill="#fffff4" stroke="#ccc" stroke-width="0.8"/><rect x="288.8" y="28.2" width="11" height="7.6" fill="#0000ff"/><text x="305.4" y="36.8" fill="#888">aida03 1.8.L</text><path d="M388.2 6.800000000000001L399.4 18L388.2 29.2L377.0 18Z" fill="#ff0000"/></svg></div>
<div class="cell" style="left:959px;top:411px;width:474px;height:134px"><svg width="474" height="134" viewBox="0 0 474 134" font-family="DejaVu Serif, Liberation Serif, serif" font-size="11.4" letter-spacing="0.38"><path d="M140.25 17.75V112.70M193.93 17.75V112.70M247.61 17.75V112.70M301.29 17.75V112.70M354.97 17.75V112.70M103.75 112.70H388.25M103.75 81.16H388.25M103.75 49.61H388.25M103.75 18.07H388.25" stroke="#545454" stroke-opacity="0.18" stroke-width="1" fill="none"/><rect x="102.88" y="16.88" width="286.25" height="96.62" fill="none" stroke="#808080" stroke-width="1.75"/><path d="M103.8 112.7L104.6 112.7L105.4 112.7L106.2 112.7L107.0 112.7L107.8 112.7L108.6 112.7L109.4 112.7L110.2 112.7L111.0 112.7L111.8 112.7L112.6 112.7L113.4 112.7L114.2 112.7L115.0 112.6L115.8 112.6L116.6 112.7L117.4 112.6L118.2 112.6L119.0 112.6L119.8 112.7L120.6 112.7L121.4 112.7L122.2 112.7L123.0 112.7L123.8 112.6L124.6 112.7L125.4 112.7L126.2 112.7L127.0 112.7L127.8 112.7L128.6 112.7L129.4 112.7L130.2 112.7L131.0 112.7L131.8 112.7L132.6 112.7L133.4 112.7L134.2 112.6L135.0 112.7L135.8 112.7L136.6 112.7L137.4 112.7L138.2 112.7L139.0 112.6L139.8 112.7L140.6 112.7L141.4 112.7L142.2 112.7L143.0 112.6L143.8 112.7L144.6 112.6L145.4 112.7L146.2 112.7L147.0 112.7L147.8 112.6L148.6 112.7L149.4 112.6L150.2 112.7L151.0 112.7L151.8 112.7L152.6 112.7L153.4 112.7L154.2 112.7L155.0 112.7L155.8 112.7L156.6 112.7L157.4 112.7L158.2 112.7L159.0 112.6L159.8 112.7L160.6 112.7L161.4 112.7L162.2 112.7L163.0 112.7L163.8 112.7L164.6 112.7L165.4 112.7L166.2 112.7L167.0 112.7L167.8 112.6L168.6 112.7L169.4 112.7L170.2 112.6L171.0 112.7L171.8 112.6L172.6 112.7L173.4 112.7L174.2 112.7L175.0 112.7L175.8 112.7L176.6 112.7L177.4 112.6L178.2 112.6L179.0 112.6L179.8 112.6L180.6 112.6L181.4 112.7L182.2 112.7L183.0 112.6L183.8 112.5L184.6 112.7L185.4 112.7L186.2 112.7L187.0 112.7L187.8 112.6L188.6 112.7L189.4 112.5L190.2 112.7L191.0 112.6L191.8 112.7L192.6 112.6L193.4 112.5L194.2 112.7L195.0 112.6L195.8 112.7L196.6 112.6L197.4 112.5L198.2 112.7L199.0 112.5L199.8 112.6L200.6 112.6L201.4 112.5L202.2 112.5L203.0 112.6L203.8 112.3L204.6 112.5L205.4 112.5L206.2 112.5L207.0 112.6L207.8 112.4L208.6 112.4L209.4 112.3L210.2 112.3L211.0 112.2L211.8 112.4L212.6 112.0L213.4 112.2L214.2 112.3L215.0 112.2L215.8 112.2L216.6 112.0L217.4 111.7L218.2 111.9L219.0 111.8L219.8 112.0L220.6 112.1L221.4 111.9L222.2 110.8L223.0 111.2L223.2 111.1L223.5 111.0L223.7 110.9L224.0 110.8L224.2 110.6L224.5 110.4L224.7 110.7L225.0 109.9L225.2 110.3L225.5 109.3L225.7 108.6L226.0 108.4L226.2 108.1L226.5 106.4L226.7 106.0L227.0 104.9L227.2 103.6L227.5 103.3L227.7 101.8L228.0 98.7L228.2 97.7L228.5 94.7L228.7 92.6L229.0 89.8L229.2 88.4L229.5 83.7L229.7 80.3L230.0 79.8L230.2 75.6L230.5 72.5L230.7 66.7L231.0 63.9L231.2 58.5L231.5 55.6L231.7 50.1L232.0 48.9L232.2 45.3L232.5 45.0L232.7 35.8L233.0 34.1L233.2 30.9L233.5 28.8L233.7 28.3L234.0 27.4L234.2 26.7L234.5 27.6L234.7 27.6L235.0 27.3L235.2 28.3L235.5 30.6L235.7 30.3L236.0 34.8L236.2 39.9L236.5 40.1L236.7 46.0L237.0 51.1L237.2 55.9L237.5 57.2L237.7 63.7L238.0 65.2L238.2 67.4L238.5 72.3L238.7 74.0L239.0 80.8L239.2 83.5L239.5 88.3L239.7 89.8L240.0 92.2L240.2 95.5L240.5 97.0L240.7 100.5L241.0 102.1L241.2 102.7L241.5 103.2L241.7 105.0L242.0 105.0L242.2 107.6L242.5 108.5L242.7 109.0L243.0 109.3L243.2 109.5L243.5 110.4L243.7 110.1L244.0 111.0L244.2 110.9L244.5 111.5L244.7 111.7L245.5 112.0L246.3 111.8L247.1 112.0L247.9 112.3L248.7 112.2L249.5 112.2L250.3 112.4L251.1 112.3L251.9 112.4L252.7 112.4L253.5 112.5L254.3 112.5L255.1 112.6L255.9 112.6L256.7 112.6L257.5 112.5L258.3 112.5L259.1 112.5L259.9 112.6L260.7 112.6L261.5 112.6L262.3 112.4L263.1 112.6L263.9 112.6L264.7 112.5L265.5 112.6L266.3 112.5L267.1 112.6L267.9 112.6L268.7 112.5L269.5 112.6L270.3 112.6L271.1 112.6L271.9 112.6L272.7 112.7L273.5 112.7L274.3 112.7L275.1 112.7L275.9 112.7L276.7 112.7L277.5 112.6L278.3 112.6L279.1 112.7L279.9 112.7L280.7 112.7L281.5 112.7L282.3 112.6L283.1 112.6L283.9 112.6L284.7 112.6L285.5 112.7L286.3 112.7L287.1 112.7L287.9 112.6L288.7 112.7L289.5 112.6L290.3 112.7L291.1 112.6L291.9 112.7L292.7 112.7L293.5 112.7L294.3 112.7L295.1 112.7L295.9 112.7L296.7 112.7L297.5 112.6L298.3 112.7L299.1 112.7L299.9 112.7L300.7 112.6L301.5 112.7L302.3 112.7L303.1 112.7L303.9 112.6L304.7 112.7L305.5 112.7L306.3 112.7L307.1 112.7L307.9 112.6L308.7 112.7L309.5 112.7L310.3 112.6L311.1 112.7L311.9 112.7L312.7 112.7L313.5 112.7L314.3 112.7L315.1 112.7L315.9 112.7L316.7 112.7L317.5 112.7L318.3 112.7L319.1 112.7L319.9 112.7L320.7 112.6L321.5 112.6L322.3 112.7L323.1 112.7L323.9 112.7L324.7 112.7L325.5 112.7L326.3 112.7L327.1 112.7L327.9 112.6L328.7 112.7L329.5 112.7L330.3 112.7L331.1 112.7L331.9 112.7L332.7 112.7L333.5 112.7L334.3 112.7L335.1 112.7L335.9 112.7L336.7 112.7L337.5 112.7L338.3 112.7L339.1 112.7L339.9 112.7L340.7 112.7L341.5 112.7L342.3 112.7L343.1 112.7L343.9 112.7L344.7 112.7L345.5 112.7L346.3 112.7L347.1 112.7L347.9 112.7L348.7 112.7L349.5 112.7L350.3 112.7L351.1 112.7L351.9 112.7L352.7 112.7L353.5 112.7L354.3 112.6L355.1 112.7L355.9 112.7L356.7 112.7L357.5 112.7L358.3 112.6L359.1 112.6L359.9 112.7L360.7 112.7L361.5 112.7L362.3 112.7L363.1 112.7L363.9 112.7L364.7 112.7L365.5 112.7L366.3 112.7L367.1 112.7L367.9 112.7L368.7 112.7L369.5 112.7L370.3 112.7L371.1 112.6L371.9 112.7L372.7 112.7L373.5 112.7L374.3 112.7L375.1 112.7L375.9 112.7L376.7 112.7L377.5 112.6L378.3 112.7L379.1 112.7L379.9 112.7L380.7 112.7L381.5 112.7L382.3 112.7L383.1 112.7L383.9 112.7L384.7 112.7L385.5 112.7L386.3 112.7L387.1 112.6L387.9 112.7" fill="none" stroke="#0000ff" stroke-width="1.25" stroke-opacity="0.85" stroke-linejoin="round"/><text x="140.5" y="128.6" text-anchor="middle" fill="#545454">16000</text><text x="194.1" y="128.6" text-anchor="middle" fill="#545454">16500</text><text x="247.8" y="128.6" text-anchor="middle" fill="#545454">17000</text><text x="301.5" y="128.6" text-anchor="middle" fill="#545454">17500</text><text x="355.2" y="128.6" text-anchor="middle" fill="#545454">18000</text><text x="100.1" y="116.6" text-anchor="end" fill="#545454">0</text><text x="100.1" y="84.6" text-anchor="end" fill="#545454">500</text><text x="100.1" y="53.6" text-anchor="end" fill="#545454">1000</text><text x="100.1" y="21.6" text-anchor="end" fill="#545454">1500</text><rect x="287.4" y="26.6" width="13.6" height="10.6" fill="#fffff4" stroke="#ccc" stroke-width="0.8"/><rect x="288.8" y="28.2" width="11" height="7.6" fill="#0000ff"/><text x="305.4" y="36.8" fill="#888">aida12 1.8.L</text><path d="M388.2 6.800000000000001L399.4 18L388.2 29.2L377.0 18Z" fill="#ff0000"/></svg></div>
<div class="cell" style="left:1435px;top:411px;width:474px;height:134px"></div>
<div class="cell" style="left:7px;top:547px;width:474px;height:134px"><svg width="474" height="134" viewBox="0 0 474 134" font-family="DejaVu Serif, Liberation Serif, serif" font-size="11.4" letter-spacing="0.38"><path d="M140.25 17.75V112.70M193.93 17.75V112.70M247.61 17.75V112.70M301.29 17.75V112.70M354.97 17.75V112.70M103.75 112.70H388.25M103.75 79.22H388.25M103.75 45.74H388.25" stroke="#545454" stroke-opacity="0.18" stroke-width="1" fill="none"/><rect x="102.88" y="16.88" width="286.25" height="96.62" fill="none" stroke="#808080" stroke-width="1.75"/><path d="M103.8 112.7L104.6 112.7L105.4 112.6L106.2 112.6L107.0 112.6L107.8 112.7L108.6 112.7L109.4 112.7L110.2 112.7L111.0 112.7L111.8 112.7L112.6 112.7L113.4 112.7L114.2 112.7L115.0 112.7L115.8 112.7L116.6 112.7L117.4 112.7L118.2 112.7L119.0 112.7L119.8 112.7L120.6 112.7L121.4 112.7L122.2 112.6L123.0 112.7L123.8 112.7L124.6 112.7L125.4 112.7L126.2 112.7L127.0 112.7L127.8 112.7L128.6 112.7L129.4 112.7L130.2 112.6L131.0 112.7L131.8 112.6L132.6 112.7L133.4 112.7L134.2 112.7L135.0 112.6L135.8 112.6L136.6 112.7L137.4 112.7L138.2 112.7L139.0 112.7L139.8 112.7L140.6 112.7L141.4 112.7L142.2 112.7L143.0 112.7L143.8 112.6L144.6 112.6L145.4 112.6L146.2 112.7L147.0 112.7L147.8 112.7L148.6 112.7L149.4 112.6L150.2 112.7L151.0 112.7L151.8 112.7L152.6 112.7L153.4 112.7L154.2 112.7L155.0 112.6L155.8 112.6L156.6 112.7L157.4 112.7L158.2 112.7L159.0 112.5L159.8 112.6L160.6 112.6L161.4 112.7L162.2 112.7L163.0 112.6L163.8 112.5L164.6 112.5L165.4 112.6L166.2 112.6L167.0 112.7L167.8 112.6L168.6 112.6L169.4 112.7L170.2 112.4L171.0 112.6L171.8 112.6L172.6 112.7L173.4 112.4L174.2 112.5L175.0 112.5L175.8 112.5L176.6 112.6L177.4 112.5L178.2 112.4L179.0 112.5L179.8 112.4L180.6 112.3L181.4 112.3L182.2 112.2L183.0 112.2L183.8 112.1L184.6 112.3L185.4 112.2L186.2 112.4L187.0 112.2L187.8 112.3L188.6 112.1L189.4 112.3L190.2 112.0L191.0 111.5L191.8 112.1L192.6 111.8L193.4 111.7L194.2 111.9L195.0 111.7L195.8 111.6L196.6 111.2L196.8 111.4L197.1 110.4L197.3 110.8L197.6 110.5L197.8 110.1L198.1 110.1L198.3 110.4L198.6 110.0L198.8 109.8L199.1 109.4L199.3 108.7L199.6 109.5L199.8 108.9L200.1 107.7L200.3 106.7L200.6 106.4L200.8 105.4L201.1 103.6L201.3 102.7L201.6 101.9L201.8 100.7L202.1 100.0L202.3 96.7L202.6 95.1L202.8 93.9L203.1 90.3L203.3 88.6L203.6 86.0L203.8 84.7L204.1 78.7L204.3 77.6L204.6 73.0L204.8 69.7L205.1 67.3L205.3 63.0L205.6 59.7L205.8 56.1L206.1 51.9L206.3 49.7L206.6 44.2L206.8 41.9L207.1 41.2L207.3 35.6L207.6 34.6L207.8 30.8L208.1 34.2L208.3 27.7L208.6 31.7L208.8 27.6L209.1 29.4L209.3 26.8L209.6 26.8L209.8 29.9L210.1 32.2L210.3 32.1L210.6 33.4L210.8 36.9L211.1 40.7L211.3 44.1L211.6 46.4L211.8 46.5L212.1 52.6L212.3 56.8L212.6 60.2L212.8 64.8L213.1 68.9L213.3 70.3L213.6 72.2L213.8 76.6L214.1 82.0L214.3 81.7L214.6 85.9L214.8 87.0L215.1 91.5L215.3 94.9L215.6 95.6L215.8 97.9L216.1 100.3L216.3 101.6L216.6 102.8L216.8 104.4L217.1 104.6L217.3 105.8L217.6 107.1L217.8 107.8L218.1 107.9L218.3 108.7L218.6 109.8L218.8 109.7L219.1 109.6L219.3 110.4L219.6 111.0L219.8 110.5L220.1 110.5L220.3 111.3L220.6 112.0L221.4 112.1L222.2 111.6L223.0 112.1L223.8 112.0L224.6 112.1L225.4 112.2L226.2 112.1L227.0 112.3L227.8 112.3L228.6 112.3L229.4 112.4L230.2 112.2L231.0 112.6L231.8 112.6L232.6 112.4L233.4 112.6L234.2 112.5L235.0 112.6L235.8 112.4L236.6 112.5L237.4 112.5L238.2 112.6L239.0 112.6L239.8 112.7L240.6 112.5L241.4 112.5L242.2 112.6L243.0 112.6L243.8 112.6L244.6 112.6L245.4 112.5L246.2 112.6L247.0 112.6L247.8 112.6L248.6 112.6L249.4 112.7L250.2 112.5L251.0 112.5L251.8 112.6L252.6 112.5L253.4 112.7L254.2 112.6L255.0 112.7L255.8 112.6L256.6 112.6L257.4 112.7L258.2 112.6L259.0 112.7L259.8 112.7L260.6 112.7L261.4 112.6L262.2 112.7L263.0 112.6L263.8 112.7L264.6 112.6L265.4 112.7L266.2 112.7L267.0 112.7L267.8 112.7L268.6 112.7L269.4 112.6L270.2 112.6L271.0 112.6L271.8 112.6L272.6 112.6L273.4 112.7L274.2 112.7L275.0 112.7L275.8 112.7L276.6 112.7L277.4 112.7L278.2 112.7L279.0 112.7L279.8 112.7L280.6 112.7L281.4 112.7L282.2 112.7L283.0 112.6L283.8 112.7L284.6 112.7L285.4 112.7L286.2 112.7L287.0 112.6L287.8 112.7L288.6 112.7L289.4 112.7L290.2 112.7L291.0 112.7L291.8 112.7L292.6 112.6L293.4 112.7L294.2 112.7L295.0 112.7L295.8 112.7L296.6 112.7L297.4 112.6L298.2 112.7L299.0 112.7L299.8 112.7L300.6 112.7L301.4 112.7L302.2 112.7L303.0 112.6L303.8 112.7L304.6 112.7L305.4 112.7L306.2 112.7L307.0 112.7L307.8 112.6L308.6 112.7L309.4 112.7L310.2 112.6L311.0 112.7L311.8 112.6L312.6 112.7L313.4 112.7L314.2 112.7L315.0 112.6L315.8 112.7L316.6 112.7L317.4 112.7L318.2 112.7L319.0 112.7L319.8 112.7L320.6 112.7L321.4 112.7L322.2 112.7L323.0 112.7L323.8 112.7L324.6 112.7L325.4 112.7L326.2 112.7L327.0 112.6L327.8 112.7L328.6 112.7L329.4 112.7L330.2 112.7L331.0 112.7L331.8 112.7L332.6 112.7L333.4 112.7L334.2 112.7L335.0 112.7L335.8 112.6L336.6 112.7L337.4 112.6L338.2 112.7L339.0 112.7L339.8 112.7L340.6 112.7L341.4 112.7L342.2 112.7L343.0 112.7L343.8 112.7L344.6 112.7L345.4 112.6L346.2 112.7L347.0 112.7L347.8 112.7L348.6 112.6L349.4 112.7L350.2 112.7L351.0 112.7L351.8 112.7L352.6 112.7L353.4 112.7L354.2 112.7L355.0 112.7L355.8 112.7L356.6 112.6L357.4 112.7L358.2 112.7L359.0 112.7L359.8 112.7L360.6 112.7L361.4 112.7L362.2 112.7L363.0 112.7L363.8 112.7L364.6 112.7L365.4 112.7L366.2 112.7L367.0 112.7L367.8 112.7L368.6 112.7L369.4 112.7L370.2 112.7L371.0 112.7L371.8 112.7L372.6 112.7L373.4 112.7L374.2 112.7L375.0 112.7L375.8 112.7L376.6 112.7L377.4 112.7L378.2 112.7L379.0 112.7L379.8 112.7L380.6 112.7L381.4 112.6L382.2 112.7L383.0 112.7L383.8 112.7L384.6 112.7L385.4 112.7L386.2 112.6L387.0 112.7L387.8 112.7" fill="none" stroke="#0000ff" stroke-width="1.25" stroke-opacity="0.85" stroke-linejoin="round"/><text x="140.5" y="128.6" text-anchor="middle" fill="#545454">16000</text><text x="194.1" y="128.6" text-anchor="middle" fill="#545454">16500</text><text x="247.8" y="128.6" text-anchor="middle" fill="#545454">17000</text><text x="301.5" y="128.6" text-anchor="middle" fill="#545454">17500</text><text x="355.2" y="128.6" text-anchor="middle" fill="#545454">18000</text><text x="100.1" y="116.6" text-anchor="end" fill="#545454">0</text><text x="100.1" y="83.6" text-anchor="end" fill="#545454">500</text><text x="100.1" y="49.6" text-anchor="end" fill="#545454">1000</text><rect x="287.4" y="27.6" width="13.6" height="10.6" fill="#fffff4" stroke="#ccc" stroke-width="0.8"/><rect x="288.8" y="29.2" width="11" height="7.6" fill="#0000ff"/><text x="305.4" y="36.8" fill="#888">aida13 1.8.L</text><path d="M388.2 6.800000000000001L399.4 18L388.2 29.2L377.0 18Z" fill="#ff0000"/></svg></div>
<div class="cell" style="left:483px;top:547px;width:474px;height:134px"><svg width="474" height="134" viewBox="0 0 474 134" font-family="DejaVu Serif, Liberation Serif, serif" font-size="11.4" letter-spacing="0.38"><path d="M140.25 17.75V112.70M193.93 17.75V112.70M247.61 17.75V112.70M301.29 17.75V112.70M354.97 17.75V112.70M103.75 112.70H388.25M103.75 87.66H388.25M103.75 62.62H388.25M103.75 37.58H388.25" stroke="#545454" stroke-opacity="0.18" stroke-width="1" fill="none"/><rect x="102.88" y="16.88" width="286.25" height="96.62" fill="none" stroke="#808080" stroke-width="1.75"/><path d="M103.8 112.7L104.6 112.7L105.4 112.7L106.2 112.7L107.0 112.7L107.8 112.6L108.6 112.7L109.4 112.7L110.2 112.7L111.0 112.6L111.8 112.7L112.6 112.6L113.4 112.6L114.2 112.6L115.0 112.7L115.8 112.6L116.6 112.7L117.4 112.6L118.2 112.6L119.0 112.6L119.8 112.7L120.6 112.6L121.4 112.6L122.2 112.7L123.0 112.6L123.8 112.6L124.6 112.6L125.4 112.7L126.2 112.6L127.0 112.7L127.8 112.5L128.6 112.7L129.4 112.6L130.2 112.7L131.0 112.6L131.8 112.5L132.6 112.6L133.4 112.7L134.2 112.6L135.0 112.5L135.8 112.6L136.6 112.6L137.4 112.5L138.2 112.5L139.0 112.6L139.8 112.5L140.6 112.4L141.4 112.4L142.2 112.5L143.0 112.4L143.8 112.3L144.6 112.5L145.4 112.3L146.2 112.4L147.0 112.2L147.8 112.3L148.6 112.1L149.4 112.1L150.2 112.2L151.0 112.1L151.8 112.1L152.6 111.9L153.4 112.0L154.2 112.1L155.0 112.0L155.8 111.6L156.6 111.6L157.4 111.6L158.2 111.6L159.0 111.6L159.2 111.1L159.5 111.0L159.7 111.3L160.0 110.8L160.2 110.3L160.5 110.3L160.7 110.0L161.0 109.5L161.2 109.1L161.5 108.4L161.7 108.3L162.0 107.3L162.2 107.1L162.5 106.1L162.7 104.2L163.0 102.9L163.2 101.6L163.5 100.0L163.7 96.4L164.0 94.7L164.2 93.2L164.5 90.9L164.7 84.8L165.0 83.0L165.2 80.9L165.5 76.2L165.7 70.3L166.0 65.0L166.2 60.0L166.5 56.7L166.7 53.8L167.0 49.7L167.2 44.2L167.5 39.2L167.7 37.4L168.0 35.1L168.2 32.4L168.5 27.6L168.7 28.0L169.0 27.9L169.2 27.0L169.5 30.8L169.7 29.2L170.0 31.1L170.2 31.7L170.5 32.1L170.7 38.7L171.0 39.9L171.2 41.8L171.5 47.5L171.7 52.0L172.0 56.1L172.2 60.3L172.5 66.8L172.7 69.8L173.0 75.3L173.2 79.6L173.5 82.2L173.7 86.4L174.0 88.5L174.2 93.7L174.5 94.5L174.7 97.1L175.0 99.7L175.2 101.9L175.5 103.8L175.7 104.8L176.0 105.9L176.2 107.3L176.5 107.7L176.7 109.1L177.0 109.1L177.2 110.1L177.5 110.2L177.7 110.8L178.0 110.4L178.2 111.7L178.5 111.1L179.3 111.7L180.1 111.9L180.9 112.4L181.7 112.3L182.5 112.5L183.3 112.4L184.1 112.4L184.9 112.4L185.7 112.5L186.5 112.6L187.3 112.5L188.1 112.4L188.9 112.5L189.7 112.6L190.5 112.5L191.3 112.5L192.1 112.6L192.9 112.6L193.7 112.5L194.5 112.6L195.3 112.7L196.1 112.6L196.9 112.7L197.7 112.5L198.5 112.6L199.3 112.7L200.1 112.7L200.9 112.5L201.7 112.6L202.5 112.6L203.3 112.7L204.1 112.6L204.9 112.6L205.7 112.7L206.5 112.6L207.3 112.6L208.1 112.6L208.9 112.6L209.7 112.7L210.5 112.7L211.3 112.7L212.1 112.6L212.9 112.6L213.7 112.7L214.5 112.7L215.3 112.6L216.1 112.7L216.9 112.7L217.7 112.6L218.5 112.6L219.3 112.7L220.1 112.7L220.9 112.7L221.7 112.7L222.5 112.7L223.3 112.7L224.1 112.6L224.9 112.7L225.7 112.6L226.5 112.7L227.3 112.6L228.1 112.7L228.9 112.7L229.7 112.7L230.5 112.7L231.3 112.7L232.1 112.7L232.9 112.7L233.7 112.7L234.5 112.7L235.3 112.7L236.1 112.7L236.9 112.7L237.7 112.7L238.5 112.6L239.3 112.7L240.1 112.7L240.9 112.7L241.7 112.6L242.5 112.7L243.3 112.7L244.1 112.7L244.9 112.7L245.7 112.7L246.5 112.7L247.3 112.7L248.1 112.6L248.9 112.7L249.7 112.7L250.5 112.7L251.3 112.7L252.1 112.7L252.9 112.7L253.7 112.6L254.5 112.7L255.3 112.7L256.1 112.7L256.9 112.7L257.7 112.7L258.5 112.7L259.3 112.7L260.1 112.7L260.9 112.6L261.7 112.7L262.5 112.7L263.3 112.7L264.1 112.7L264.9 112.7L265.7 112.7L266.5 112.7L267.3 112.7L268.1 112.7L268.9 112.6L269.7 112.7L270.5 112.7L271.3 112.7L272.1 112.7L272.9 112.7L273.7 112.7L274.5 112.7L275.3 112.6L276.1 112.7L276.9 112.7L277.7 112.7L278.5 112.7L279.3 112.7L280.1 112.7L280.9 112.7L281.7 112.7L282.5 112.7L283.3 112.7L284.1 112.7L284.9 112.7L285.7 112.7L286.5 112.7L287.3 112.7L288.1 112.6L288.9 112.7L289.7 112.7L290.5 112.7L291.3 112.7L292.1 112.7L292.9 112.7L293.7 112.6L294.5 112.7L295.3 112.7L296.1 112.7L296.9 112.7L297.7 112.7L298.5 112.7L299.3 112.7L300.1 112.7L300.9 112.7L301.7 112.6L302.5 112.7L303.3 112.7L304.1 112.7L304.9 112.7L305.7 112.7L306.5 112.7L307.3 112.7L308.1 112.7L308.9 112.7L309.7 112.7L310.5 112.7L311.3 112.7L312.1 112.7L312.9 112.7L313.7 112.7L314.5 112.6L315.3 112.7L316.1 112.7L316.9 112.7L317.7 112.7L318.5 112.7L319.3 112.7L320.1 112.7L320.9 112.7L321.7 112.7L322.5 112.7L323.3 112.7L324.1 112.7L324.9 112.7L325.7 112.7L326.5 112.7L327.3 112.7L328.1 112.7L328.9 112.7L329.7 112.7L330.5 112.7L331.3 112.7L332.1 112.7L332.9 112.6L333.7 112.7L334.5 112.7L335.3 112.7L336.1 112.7L336.9 112.7L337.7 112.7L338.5 112.7L339.3 112.7L340.1 112.7L340.9 112.7L341.7 112.7L342.5 112.7L343.3 112.7L344.1 112.7L344.9 112.7L345.7 112.7L346.5 112.7L347.3 112.7L348.1 112.7L348.9 112.7L349.7 112.7L350.5 112.7L351.3 112.7L352.1 112.7L352.9 112.7L353.7 112.7L354.5 112.6L355.3 112.7L356.1 112.7L356.9 112.7L357.7 112.7L358.5 112.7L359.3 112.6L360.1 112.7L360.9 112.7L361.7 112.7L362.5 112.7L363.3 112.7L364.1 112.7L364.9 112.7L365.7 112.7L366.5 112.7L367.3 112.7L368.1 112.7L368.9 112.7L369.7 112.7L370.5 112.7L371.3 112.7L372.1 112.7L372.9 112.7L373.7 112.7L374.5 112.7L375.3 112.7L376.1 112.7L376.9 112.7L377.7 112.7L378.5 112.7L379.3 112.7L380.1 112.7L380.9 112.7L381.7 112.7L382.5 112.7L383.3 112.7L384.1 112.7L384.9 112.7L385.7 112.7L386.5 112.7L387.3 112.7L388.1 112.7" fill="none" stroke="#0000ff" stroke-width="1.25" stroke-opacity="0.85" stroke-linejoin="round"/><text x="140.5" y="128.6" text-anchor="middle" fill="#545454">16000</text><text x="194.1" y="128.6" text-anchor="middle" fill="#545454">16500</text><text x="247.8" y="128.6" text-anchor="middle" fill="#545454">17000</text><text x="301.5" y="128.6" text-anchor="middle" fill="#545454">17500</text><text x="355.2" y="128.6" text-anchor="middle" fill="#545454">18000</text><text x="100.1" y="116.6" text-anchor="end" fill="#545454">0</text><text x="100.1" y="91.6" text-anchor="end" fill="#545454">500</text><text x="100.1" y="66.6" text-anchor="end" fill="#545454">1000</text><text x="100.1" y="41.6" text-anchor="end" fill="#545454">1500</text><rect x="287.4" y="27.6" width="13.6" height="10.6" fill="#fffff4" stroke="#ccc" stroke-width="0.8"/><rect x="288.8" y="29.2" width="11" height="7.6" fill="#0000ff"/><text x="305.4" y="36.8" fill="#888">aida05 1.8.L</text><path d="M388.2 6.800000000000001L399.4 18L388.2 29.2L377.0 18Z" fill="#ff0000"/></svg></div>
<div class="cell" style="left:959px;top:547px;width:474px;height:134px"><svg width="474" height="134" viewBox="0 0 474 134" font-family="DejaVu Serif, Liberation Serif, serif" font-size="11.4" letter-spacing="0.38"><path d="M140.25 17.75V112.70M193.93 17.75V112.70M247.61 17.75V112.70M301.29 17.75V112.70M354.97 17.75V112.70M103.75 112.70H388.25M103.75 80.09H388.25M103.75 47.49H388.25" stroke="#545454" stroke-opacity="0.18" stroke-width="1" fill="none"/><rect x="102.88" y="16.88" width="286.25" height="96.62" fill="none" stroke="#808080" stroke-width="1.75"/><path d="M103.8 112.7L104.6 112.7L105.4 112.7L106.2 112.7L107.0 112.7L107.8 112.7L108.6 112.7L109.4 112.6L110.2 112.6L111.0 112.6L111.8 112.7L112.6 112.6L113.4 112.6L114.2 112.7L115.0 112.7L115.8 112.7L116.6 112.7L117.4 112.7L118.2 112.6L119.0 112.6L119.8 112.7L120.6 112.6L121.4 112.7L122.2 112.7L123.0 112.7L123.8 112.7L124.6 112.7L125.4 112.6L126.2 112.7L127.0 112.6L127.8 112.7L128.6 112.6L129.4 112.6L130.2 112.7L131.0 112.7L131.8 112.7L132.6 112.7L133.4 112.7L134.2 112.5L135.0 112.5L135.8 112.6L136.6 112.6L137.4 112.5L138.2 112.5L139.0 112.5L139.8 112.5L140.6 112.7L141.4 112.5L142.2 112.7L143.0 112.5L143.8 112.6L144.6 112.6L145.4 112.4L146.2 112.6L147.0 112.3L147.8 112.5L148.6 112.4L149.4 112.4L150.2 112.5L151.0 112.1L151.8 112.1L152.6 112.3L153.4 112.3L154.2 112.3L155.0 112.1L155.8 112.0L156.6 111.9L157.4 112.3L158.2 112.2L159.0 112.4L159.8 112.1L160.6 112.0L161.4 112.2L162.2 112.2L163.0 111.6L163.8 111.8L164.6 111.5L165.4 111.5L166.2 111.5L166.4 111.2L166.7 111.0L166.9 111.1L167.2 111.1L167.4 110.8L167.7 110.6L167.9 110.4L168.2 109.8L168.4 110.0L168.7 109.6L168.9 109.7L169.2 109.6L169.4 109.3L169.7 108.1L169.9 107.1L170.2 106.2L170.4 106.7L170.7 105.9L170.9 104.9L171.2 103.5L171.4 102.0L171.7 100.8L171.9 99.9L172.2 96.3L172.4 94.7L172.7 93.4L172.9 88.6L173.2 88.4L173.4 83.8L173.7 83.5L173.9 79.1L174.2 79.0L174.4 73.1L174.7 70.4L174.9 67.3L175.2 61.8L175.4 57.9L175.7 57.6L175.9 51.4L176.2 46.9L176.4 45.0L176.7 38.3L176.9 40.2L177.2 37.2L177.4 33.1L177.7 31.0L177.9 26.9L178.2 26.9L178.4 27.2L178.7 27.2L178.9 27.3L179.2 27.6L179.4 26.8L179.7 26.4L179.9 29.2L180.2 29.9L180.4 34.5L180.7 37.0L180.9 38.8L181.2 43.1L181.4 44.4L181.7 47.4L181.9 51.1L182.2 58.3L182.4 61.4L182.7 62.7L182.9 66.5L183.2 70.5L183.4 74.2L183.7 78.9L183.9 79.0L184.2 83.4L184.4 85.6L184.7 89.5L184.9 92.1L185.2 94.3L185.4 95.2L185.7 98.2L185.9 98.6L186.2 101.3L186.4 103.7L186.7 103.6L186.9 105.0L187.2 106.1L187.4 105.4L187.7 107.4L187.9 109.0L188.2 108.8L188.4 109.2L188.7 109.9L188.9 109.5L189.2 110.5L189.4 111.0L189.7 111.2L189.9 111.5L190.2 111.4L190.4 111.4L191.2 111.7L192.0 112.2L192.8 112.0L193.6 112.4L194.4 112.3L195.2 112.1L196.0 112.5L196.8 112.1L197.6 112.2L198.4 112.3L199.2 112.5L200.0 112.2L200.8 112.4L201.6 112.5L202.4 112.4L203.2 112.5L204.0 112.4L204.8 112.6L205.6 112.5L206.4 112.6L207.2 112.5L208.0 112.5L208.8 112.7L209.6 112.6L210.4 112.4L211.2 112.5L212.0 112.6L212.8 112.5L213.6 112.6L214.4 112.6L215.2 112.6L216.0 112.6L216.8 112.7L217.6 112.6L218.4 112.6L219.2 112.7L220.0 112.6L220.8 112.6L221.6 112.7L222.4 112.6L223.2 112.6L224.0 112.7L224.8 112.6L225.6 112.7L226.4 112.6L227.2 112.6L228.0 112.7L228.8 112.7L229.6 112.7L230.4 112.7L231.2 112.7L232.0 112.7L232.8 112.6L233.6 112.6L234.4 112.6L235.2 112.6L236.0 112.7L236.8 112.6L237.6 112.6L238.4 112.7L239.2 112.7L240.0 112.6L240.8 112.7L241.6 112.7L242.4 112.7L243.2 112.7L244.0 112.7L244.8 112.7L245.6 112.6L246.4 112.7L247.2 112.7L248.0 112.7L248.8 112.7L249.6 112.7L250.4 112.7L251.2 112.7L252.0 112.7L252.8 112.7L253.6 112.7L254.4 112.7L255.2 112.7L256.0 112.7L256.8 112.6L257.6 112.7L258.4 112.6L259.2 112.6L260.0 112.7L260.8 112.7L261.6 112.7L262.4 112.7L263.2 112.7L264.0 112.7L264.8 112.7L265.6 112.7L266.4 112.7L267.2 112.7L268.0 112.7L268.8 112.7L269.6 112.7L270.4 112.7L271.2 112.7L272.0 112.7L272.8 112.7L273.6 112.7L274.4 112.7L275.2 112.7L276.0 112.7L276.8 112.7L277.6 112.7L278.4 112.7L279.2 112.7L280.0 112.7L280.8 112.7L281.6 112.7L282.4 112.6L283.2 112.7L284.0 112.7L284.8 112.7L285.6 112.7L286.4 112.7L287.2 112.7L288.0 112.7L288.8 112.7L289.6 112.7L290.4 112.7L291.2 112.7L292.0 112.7L292.8 112.6L293.6 112.7L294.4 112.7L295.2 112.7L296.0 112.7L296.8 112.7L297.6 112.7L298.4 112.7L299.2 112.7L300.0 112.7L300.8 112.7L301.6 112.7L302.4 112.7L303.2 112.7L304.0 112.7L304.8 112.7L305.6 112.7L306.4 112.7L307.2 112.7L308.0 112.7L308.8 112.7L309.6 112.7L310.4 112.7L311.2 112.7L312.0 112.7L312.8 112.7L313.6 112.7L314.4 112.7L315.2 112.7L316.0 112.7L316.8 112.7L317.6 112.7L318.4 112.7L319.2 112.7L320.0 112.7L320.8 112.7L321.6 112.7L322.4 112.7L323.2 112.7L324.0 112.7L324.8 112.7L325.6 112.7L326.4 112.6L327.2 112.7L328.0 112.6L328.8 112.7L329.6 112.7L330.4 112.7L331.2 112.7L332.0 112.6L332.8 112.7L333.6 112.7L334.4 112.7L335.2 112.6L336.0 112.7L336.8 112.6L337.6 112.7L338.4 112.7L339.2 112.6L340.0 112.7L340.8 112.7L341.6 112.7L342.4 112.7L343.2 112.7L344.0 112.7L344.8 112.7L345.6 112.7L346.4 112.7L347.2 112.7L348.0 112.7L348.8 112.7L349.6 112.7L350.4 112.7L351.2 112.7L352.0 112.7L352.8 112.7L353.6 112.7L354.4 112.7L355.2 112.7L356.0 112.7L356.8 112.7L357.6 112.7L358.4 112.7L359.2 112.7L360.0 112.6L360.8 112.6L361.6 112.7L362.4 112.7L363.2 112.7L364.0 112.7L364.8 112.7L365.6 112.7L366.4 112.7L367.2 112.7L368.0 112.7L368.8 112.7L369.6 112.7L370.4 112.7L371.2 112.7L372.0 112.7L372.8 112.7L373.6 112.6L374.4 112.7L375.2 112.7L376.0 112.7L376.8 112.7L377.6 112.6L378.4 112.7L379.2 112.6L380.0 112.7L380.8 112.7L381.6 112.6L382.4 112.7L383.2 112.7L384.0 112.7L384.8 112.7L385.6 112.7L386.4 112.7L387.2 112.7L388.0 112.7" fill="none" stroke="#0000ff" stroke-width="1.25" stroke-opacity="0.85" stroke-linejoin="round"/><text x="140.5" y="128.6" text-anchor="middle" fill="#545454">16000</text><text x="194.1" y="128.6" text-anchor="middle" fill="#545454">16500</text><text x="247.8" y="128.6" text-anchor="middle" fill="#545454">17000</text><text x="301.5" y="128.6" text-anchor="middle" fill="#545454">17500</text><text x="355.2" y="128.6" text-anchor="middle" fill="#545454">18000</text><text x="100.1" y="116.6" text-anchor="end" fill="#545454">0</text><text x="100.1" y="83.6" text-anchor="end" fill="#545454">500</text><text x="100.1" y="51.6" text-anchor="end" fill="#545454">1000</text><rect x="287.4" y="27.6" width="13.6" height="10.6" fill="#fffff4" stroke="#ccc" stroke-width="0.8"/><rect x="288.8" y="29.2" width="11" height="7.6" fill="#0000ff"/><text x="305.4" y="36.8" fill="#888">aida14 1.8.L</text><path d="M388.2 6.800000000000001L399.4 18L388.2 29.2L377.0 18Z" fill="#ff0000"/></svg></div>
<div class="cell" style="left:1435px;top:547px;width:474px;height:134px"></div>
<div class="cell" style="left:7px;top:683px;width:474px;height:135px"><svg width="474" height="135" viewBox="0 0 474 135" font-family="DejaVu Serif, Liberation Serif, serif" font-size="11.4" letter-spacing="0.38"><path d="M140.25 17.75V113.70M193.93 17.75V113.70M247.61 17.75V113.70M301.29 17.75V113.70M354.97 17.75V113.70M103.75 113.70H388.25M103.75 79.31H388.25M103.75 44.92H388.25" stroke="#545454" stroke-opacity="0.18" stroke-width="1" fill="none"/><rect x="102.88" y="16.88" width="286.25" height="97.62" fill="none" stroke="#808080" stroke-width="1.75"/><path d="M103.8 113.7L104.6 113.7L105.4 113.7L106.2 113.7L107.0 113.7L107.8 113.7L108.6 113.7L109.4 113.7L110.2 113.7L111.0 113.7L111.8 113.7L112.6 113.6L113.4 113.7L114.2 113.7L115.0 113.7L115.8 113.7L116.6 113.7L117.4 113.7L118.2 113.7L119.0 113.7L119.8 113.7L120.6 113.7L121.4 113.7L122.2 113.7L123.0 113.6L123.8 113.7L124.6 113.7L125.4 113.7L126.2 113.7L127.0 113.7L127.8 113.7L128.6 113.7L129.4 113.7L130.2 113.6L131.0 113.7L131.8 113.7L132.6 113.7L133.4 113.7L134.2 113.7L135.0 113.7L135.8 113.7L136.6 113.7L137.4 113.7L138.2 113.7L139.0 113.7L139.8 113.7L140.6 113.7L141.4 113.7L142.2 113.7L143.0 113.7L143.8 113.7L144.6 113.7L145.4 113.7L146.2 113.7L147.0 113.7L147.8 113.7L148.6 113.7L149.4 113.6L150.2 113.7L151.0 113.7L151.8 113.7L152.6 113.7L153.4 113.7L154.2 113.6L155.0 113.7L155.8 113.7L156.6 113.7L157.4 113.7L158.2 113.7L159.0 113.7L159.8 113.7L160.6 113.7L161.4 113.7L162.2 113.7L163.0 113.6L163.8 113.7L164.6 113.7L165.4 113.7L166.2 113.7L167.0 113.7L167.8 113.7L168.6 113.7L169.4 113.7L170.2 113.7L171.0 113.7L171.8 113.6L172.6 113.7L173.4 113.7L174.2 113.7L175.0 113.7L175.8 113.7L176.6 113.7L177.4 113.7L178.2 113.7L179.0 113.7L179.8 113.7L180.6 113.7L181.4 113.7L182.2 113.7L183.0 113.7L183.8 113.7L184.6 113.7L185.4 113.6L186.2 113.7L187.0 113.7L187.8 113.7L188.6 113.7L189.4 113.7L190.2 113.6L191.0 113.7L191.8 113.7L192.6 113.7L193.4 113.7L194.2 113.7L195.0 113.7L195.8 113.7L196.6 113.7L197.4 113.7L198.2 113.7L199.0 113.7L199.8 113.7L200.6 113.7L201.4 113.7L202.2 113.7L203.0 113.7L203.8 113.7L204.6 113.6L205.4 113.7L206.2 113.6L207.0 113.7L207.8 113.7L208.6 113.6L209.4 113.7L210.2 113.7L211.0 113.6L211.8 113.6L212.6 113.6L213.4 113.7L214.2 113.6L215.0 113.7L215.8 113.7L216.6 113.7L217.4 113.7L218.2 113.7L219.0 113.6L219.8 113.6L220.6 113.6L221.4 113.6L222.2 113.6L223.0 113.6L223.8 113.5L224.6 113.6L225.4 113.7L226.2 113.6L227.0 113.6L227.8 113.7L228.6 113.7L229.4 113.5L230.2 113.6L231.0 113.6L231.8 113.6L232.6 113.5L233.4 113.6L234.2 113.6L235.0 113.7L235.8 113.7L236.6 113.4L237.4 113.6L238.2 113.4L239.0 113.5L239.8 113.5L240.6 113.5L241.4 113.5L242.2 113.3L243.0 113.4L243.8 113.6L244.6 113.4L245.4 113.2L246.2 113.5L247.0 113.3L247.8 113.3L248.6 113.1L249.4 113.4L250.2 113.0L251.0 113.4L251.8 113.1L252.6 113.3L253.4 113.0L254.2 113.1L255.0 113.2L255.8 112.8L256.6 113.0L257.4 112.6L258.2 113.2L259.0 112.1L259.8 112.3L260.0 111.7L260.3 111.8L260.5 111.9L260.8 111.8L261.0 111.7L261.3 111.1L261.5 111.1L261.8 111.3L262.0 110.6L262.3 109.9L262.5 109.7L262.8 109.1L263.0 108.5L263.3 109.2L263.5 107.2L263.8 105.7L264.0 105.3L264.3 104.8L264.5 104.2L264.8 102.7L265.0 99.5L265.3 99.7L265.5 97.2L265.8 95.9L266.0 93.3L266.3 92.9L266.5 91.4L266.8 87.4L267.0 84.3L267.3 84.8L267.5 79.1L267.8 75.6L268.0 73.0L268.3 70.1L268.5 69.0L268.8 64.3L269.0 61.4L269.3 55.1L269.5 52.6L269.8 49.0L270.0 49.4L270.3 45.8L270.5 40.3L270.8 38.0L271.0 33.6L271.3 34.4L271.5 32.5L271.8 28.1L272.0 30.0L272.3 28.2L272.5 27.5L272.8 28.0L273.0 27.3L273.3 29.6L273.5 28.9L273.8 34.6L274.0 29.0L274.3 29.3L274.5 33.8L274.8 38.4L275.0 41.4L275.3 43.0L275.5 44.7L275.8 46.7L276.0 49.5L276.3 51.9L276.5 57.5L276.8 59.7L277.0 68.6L277.3 70.0L277.5 71.3L277.8 76.0L278.0 78.1L278.3 80.5L278.5 82.7L278.8 86.0L279.0 88.5L279.3 91.3L279.5 92.8L279.8 94.3L280.0 97.7L280.3 98.8L280.5 100.5L280.8 102.3L281.0 104.1L281.3 105.1L281.5 106.0L281.8 106.5L282.0 107.3L282.3 107.9L282.5 109.0L282.8 110.1L283.0 110.0L283.3 111.3L283.5 110.6L283.8 110.7L284.0 111.9L284.3 112.0L284.5 112.6L284.8 112.3L285.0 112.5L285.3 112.4L286.1 112.7L286.9 113.0L287.7 112.9L288.5 113.0L289.3 113.3L290.1 113.2L290.9 113.5L291.7 113.6L292.5 113.5L293.3 113.2L294.1 113.5L294.9 113.5L295.7 113.5L296.5 113.5L297.3 113.4L298.1 113.4L298.9 113.5L299.7 113.6L300.5 113.6L301.3 113.6L302.1 113.6L302.9 113.6L303.7 113.6L304.5 113.5L305.3 113.5L306.1 113.6L306.9 113.5L307.7 113.7L308.5 113.5L309.3 113.5L310.1 113.5L310.9 113.6L311.7 113.7L312.5 113.5L313.3 113.6L314.1 113.7L314.9 113.7L315.7 113.7L316.5 113.6L317.3 113.6L318.1 113.7L318.9 113.5L319.7 113.6L320.5 113.6L321.3 113.7L322.1 113.7L322.9 113.7L323.7 113.6L324.5 113.6L325.3 113.7L326.1 113.6L326.9 113.7L327.7 113.6L328.5 113.7L329.3 113.6L330.1 113.6L330.9 113.6L331.7 113.7L332.5 113.7L333.3 113.7L334.1 113.6L334.9 113.7L335.7 113.6L336.5 113.7L337.3 113.7L338.1 113.7L338.9 113.6L339.7 113.7L340.5 113.7L341.3 113.7L342.1 113.7L342.9 113.7L343.7 113.7L344.5 113.7L345.3 113.7L346.1 113.7L346.9 113.6L347.7 113.7L348.5 113.7L349.3 113.7L350.1 113.6L350.9 113.6L351.7 113.7L352.5 113.7L353.3 113.7L354.1 113.7L354.9 113.7L355.7 113.7L356.5 113.7L357.3 113.7L358.1 113.7L358.9 113.7L359.7 113.7L360.5 113.7L361.3 113.7L362.1 113.7L362.9 113.7L363.7 113.7L364.5 113.7L365.3 113.7L366.1 113.7L366.9 113.7L367.7 113.7L368.5 113.6L369.3 113.7L370.1 113.6L370.9 113.6L371.7 113.7L372.5 113.7L373.3 113.7L374.1 113.7L374.9 113.7L375.7 113.7L376.5 113.6L377.3 113.7L378.1 113.7L378.9 113.7L379.7 113.7L380.5 113.7L381.3 113.7L382.1 113.7L382.9 113.7L383.7 113.7L384.5 113.7L385.3 113.7L386.1 113.7L386.9 113.7L387.7 113.7" fill="none" stroke="#0000ff" stroke-width="1.25" stroke-opacity="0.85" stroke-linejoin="round"/><text x="140.5" y="129.6" text-anchor="middle" fill="#545454">16000</text><text x="194.1" y="129.6" text-anchor="middle" fill="#545454">16500</text><text x="247.8" y="129.6" text-anchor="middle" fill="#545454">17000</text><text x="301.5" y="129.6" text-anchor="middle" fill="#545454">17500</text><text x="355.2" y="129.6" text-anchor="middle" fill="#545454">18000</text><text x="100.1" y="117.6" text-anchor="end" fill="#545454">0</text><text x="100.1" y="83.6" text-anchor="end" fill="#545454">500</text><text x="100.1" y="48.6" text-anchor="end" fill="#545454">1000</text><rect x="287.4" y="27.6" width="13.6" height="10.6" fill="#fffff4" stroke="#ccc" stroke-width="0.8"/><rect x="288.8" y="29.2" width="11" height="7.6" fill="#0000ff"/><text x="305.4" y="36.8" fill="#888">aida15 1.8.L</text><path d="M388.2 6.800000000000001L399.4 18L388.2 29.2L377.0 18Z" fill="#ff0000"/></svg></div>
<div class="cell" style="left:483px;top:683px;width:474px;height:135px"><svg width="474" height="135" viewBox="0 0 474 135" font-family="DejaVu Serif, Liberation Serif, serif" font-size="11.4" letter-spacing="0.38"><path d="M133.45 17.75V113.70M188.60 17.75V113.70M243.75 17.75V113.70M298.91 17.75V113.70M354.06 17.75V113.70M95.95 113.70H388.25M95.95 96.00H388.25M95.95 78.29H388.25M95.95 60.59H388.25M95.95 42.89H388.25M95.95 25.19H388.25" stroke="#545454" stroke-opacity="0.18" stroke-width="1" fill="none"/><rect x="95.08" y="16.88" width="294.05" height="97.62" fill="none" stroke="#808080" stroke-width="1.75"/><path d="M96.0 113.5L96.7 113.7L97.5 113.6L98.3 113.7L99.1 113.7L99.9 113.5L100.7 113.5L101.5 113.7L102.3 113.7L103.1 113.7L103.9 113.7L104.7 113.5L105.5 113.6L106.3 113.6L107.1 113.6L107.9 113.7L108.7 113.6L109.5 113.6L110.3 113.6L111.1 113.7L111.9 113.7L112.7 113.6L113.5 113.6L114.3 113.7L115.1 113.5L115.9 113.6L116.7 113.6L117.5 113.6L118.3 113.6L119.1 113.5L119.9 113.7L120.7 113.5L121.5 113.6L122.3 113.6L123.1 113.5L123.9 113.6L124.7 113.6L125.5 113.7L126.3 113.6L127.1 113.6L127.9 113.7L128.7 113.7L129.5 113.5L130.3 113.5L131.1 113.7L131.9 113.7L132.7 113.6L133.5 113.5L134.3 113.7L135.1 113.7L135.9 113.5L136.7 113.4L137.5 113.5L138.3 113.7L139.1 113.5L139.9 113.6L140.7 113.6L141.5 113.6L142.3 113.7L143.1 113.7L143.9 113.7L144.7 113.5L145.5 113.6L146.3 113.6L147.1 113.6L147.9 113.6L148.7 113.6L149.5 113.7L150.3 113.6L151.1 113.7L151.9 113.7L152.7 113.6L153.5 113.4L154.3 113.5L155.1 113.5L155.9 113.5L156.7 113.6L157.5 113.5L158.3 113.6L159.1 113.6L159.9 113.6L160.7 113.5L161.5 113.6L162.3 113.6L163.1 113.5L163.9 113.5L164.7 113.5L165.5 113.4L166.3 113.5L167.1 113.5L167.9 113.6L168.7 113.7L169.5 113.4L170.3 113.4L171.1 113.4L171.9 113.4L172.7 113.6L173.5 113.4L174.3 113.4L175.1 113.3L175.9 113.5L176.7 113.2L177.5 113.2L178.3 113.6L179.1 113.4L179.9 113.4L180.7 113.3L181.5 113.1L182.3 113.7L183.1 113.1L183.9 113.2L184.7 113.4L185.5 113.4L186.3 113.1L187.1 113.3L187.9 113.3L188.7 113.3L189.5 112.7L190.3 113.6L191.1 112.7L191.9 113.5L192.7 112.8L193.5 113.2L194.3 113.0L195.1 113.2L195.9 113.0L196.7 112.5L197.5 113.1L198.3 113.5L199.1 112.9L199.9 113.6L200.7 112.9L201.5 112.7L202.3 112.8L203.1 112.7L203.9 111.7L204.7 111.4L205.0 111.6L205.2 111.6L205.5 112.1L205.7 112.5L206.0 112.4L206.2 112.6L206.5 112.4L206.7 112.3L207.0 111.7L207.2 111.3L207.5 111.7L207.7 111.5L208.0 112.1L208.2 111.5L208.5 112.1L208.7 111.6L209.0 110.7L209.2 111.3L209.5 111.5L209.7 111.0L210.0 111.6L210.2 111.1L210.5 111.5L210.7 110.4L211.0 110.9L211.2 110.6L211.5 110.4L211.7 110.3L212.0 110.1L212.2 110.1L212.5 110.1L212.7 109.4L213.0 109.2L213.2 108.6L213.5 108.1L213.7 107.7L214.0 108.5L214.2 108.6L214.5 107.6L214.7 107.6L215.0 106.3L215.2 107.0L215.5 105.7L215.7 107.0L216.0 105.0L216.2 105.5L216.5 105.6L216.7 105.5L217.0 104.7L217.2 103.6L217.5 100.6L217.7 100.6L218.0 100.4L218.2 100.7L218.5 99.0L218.7 100.1L219.0 100.1L219.2 98.3L219.5 95.9L219.7 91.4L220.0 96.6L220.2 94.3L220.5 93.3L220.7 92.3L221.0 91.5L221.2 89.1L221.5 88.9L221.7 85.6L222.0 87.3L222.2 84.2L222.5 83.2L222.7 80.8L223.0 77.3L223.2 78.5L223.5 75.2L223.7 74.8L224.0 71.6L224.2 69.2L224.5 69.1L224.7 64.6L225.0 67.1L225.2 59.0L225.5 64.1L225.7 58.7L226.0 56.1L226.2 52.3L226.5 54.4L226.7 50.8L227.0 49.8L227.2 47.2L227.5 46.1L227.7 45.0L228.0 43.7L228.2 39.4L228.5 40.1L228.7 40.3L229.0 41.5L229.2 38.8L229.5 39.2L229.7 31.1L230.0 29.5L230.2 35.1L230.5 31.0L230.7 26.8L231.0 30.1L231.2 30.7L231.5 32.9L231.7 29.2L232.0 26.9L232.2 26.8L232.5 27.6L232.7 27.1L233.0 27.9L233.2 28.8L233.5 27.3L233.7 26.9L234.0 32.3L234.2 26.8L234.5 27.7L234.7 27.3L235.0 34.6L235.2 32.7L235.5 38.9L235.7 33.3L236.0 32.8L236.2 39.6L236.5 36.5L236.7 40.7L237.0 39.1L237.2 41.6L237.5 45.5L237.7 50.0L238.0 49.3L238.2 47.3L238.5 48.5L238.7 53.8L239.0 52.5L239.2 51.2L239.5 60.1L239.7 58.7L240.0 60.5L240.2 65.3L240.5 66.2L240.7 61.9L241.0 67.2L241.2 67.9L241.5 73.6L241.7 72.1L242.0 74.3L242.2 75.0L242.5 80.8L242.7 84.1L243.0 79.8L243.2 80.0L243.5 83.5L243.7 84.0L244.0 89.8L244.2 86.1L244.5 88.2L244.7 92.9L245.0 92.9L245.2 91.1L245.5 91.1L245.7 94.6L246.0 96.5L246.2 98.9L246.5 98.8L246.7 100.3L247.0 99.6L247.2 100.7L247.5 99.7L247.7 103.5L248.0 103.1L248.2 104.5L248.5 104.3L248.7 103.5L249.0 106.4L249.2 106.0L249.5 105.6L249.7 108.1L250.0 107.5L250.2 106.1L250.5 109.1L250.7 107.0L251.0 108.2L251.2 108.1L251.5 109.3L251.7 109.5L252.0 110.3L252.2 110.1L252.5 110.1L252.7 111.6L253.0 110.3L253.2 109.9L253.5 111.0L253.7 112.1L254.0 110.5L254.2 112.0L254.5 111.8L254.7 111.9L255.0 110.9L255.2 112.5L255.5 111.8L255.7 112.4L256.0 112.8L256.2 112.2L256.5 112.0L256.7 112.1L257.0 111.8L257.2 112.3L257.5 112.4L258.3 112.9L259.1 112.2L259.9 112.6L260.7 112.6L261.5 112.2L262.3 112.3L263.1 112.2L263.9 113.4L264.7 113.2L265.5 113.3L266.3 113.1L267.1 112.9L267.9 113.1L268.7 113.5L269.5 112.8L270.3 112.8L271.1 113.2L271.9 113.3L272.7 113.0L273.5 113.1L274.3 113.7L275.1 113.2L275.9 113.2L276.7 112.8L277.5 113.4L278.3 113.3L279.1 113.0L279.9 113.4L280.7 113.4L281.5 113.5L282.3 113.3L283.1 113.5L283.9 113.7L284.7 113.4L285.5 113.4L286.3 113.4L287.1 113.6L287.9 113.6L288.7 113.1L289.5 113.6L290.3 113.7L291.1 113.3L291.9 113.3L292.7 113.5L293.5 113.6L294.3 113.5L295.1 113.6L295.9 113.4L296.7 113.6L297.5 113.5L298.3 113.5L299.1 113.5L299.9 113.3L300.7 113.5L301.5 113.7L302.3 113.5L303.1 113.5L303.9 113.6L304.7 113.5L305.5 113.7L306.3 113.7L307.1 113.5L307.9 113.5L308.7 113.6L309.5 113.4L310.3 113.6L311.1 113.3L311.9 113.6L312.7 113.7L313.5 113.6L314.3 113.6L315.1 113.6L315.9 113.6L316.7 113.6L317.5 113.7L318.3 113.6L319.1 113.6L319.9 113.6L320.7 113.5L321.5 113.5L322.3 113.5L323.1 113.7L323.9 113.6L324.7 113.7L325.5 113.6L326.3 113.5L327.1 113.5L327.9 113.6L328.7 113.6L329.5 113.6L330.3 113.6L331.1 113.7L331.9 113.7L332.7 113.6L333.5 113.6L334.3 113.6L335.1 113.5L335.9 113.7L336.7 113.6L337.5 113.7L338.3 113.6L339.1 113.6L339.9 113.7L340.7 113.6L341.5 113.7L342.3 113.7L343.1 113.6L343.9 113.7L344.7 113.6L345.5 113.6L346.3 113.4L347.1 113.7L347.9 113.6L348.7 113.7L349.5 113.7L350.3 113.7L351.1 113.7L351.9 113.6L352.7 113.5L353.5 113.7L354.3 113.7L355.1 113.6L355.9 113.7L356.7 113.5L357.5 113.7L358.3 113.7L359.1 113.6L359.9 113.7L360.7 113.7L361.5 113.7L362.3 113.6L363.1 113.7L363.9 113.6L364.7 113.6L365.5 113.7L366.3 113.7L367.1 113.6L367.9 113.6L368.7 113.7L369.5 113.6L370.3 113.6L371.1 113.5L371.9 113.7L372.7 113.6L373.5 113.6L374.3 113.7L375.1 113.7L375.9 113.6L376.7 113.7L377.5 113.7L378.3 113.6L379.1 113.7L379.9 113.6L380.7 113.5L381.5 113.7L382.3 113.6L383.1 113.6L383.9 113.6L384.7 113.4L385.5 113.7L386.3 113.6L387.1 113.7L387.9 113.6" fill="none" stroke="#0000ff" stroke-width="1.25" stroke-opacity="0.85" stroke-linejoin="round"/><text x="133.7" y="129.6" text-anchor="middle" fill="#545454">16000</text><text x="188.8" y="129.6" text-anchor="middle" fill="#545454">16500</text><text x="244.0" y="129.6" text-anchor="middle" fill="#545454">17000</text><text x="299.1" y="129.6" text-anchor="middle" fill="#545454">17500</text><text x="354.3" y="129.6" text-anchor="middle" fill="#545454">18000</text><text x="91.9" y="117.6" text-anchor="end" fill="#545454">0</text><text x="91.9" y="99.6" text-anchor="end" fill="#545454">100</text><text x="91.9" y="82.6" text-anchor="end" fill="#545454">200</text><text x="91.9" y="64.6" text-anchor="end" fill="#545454">300</text><text x="91.9" y="46.6" text-anchor="end" fill="#545454">400</text><text x="91.9" y="28.6" text-anchor="end" fill="#545454">500</text><rect x="287.4" y="27.6" width="13.6" height="10.6" fill="#fffff4" stroke="#ccc" stroke-width="0.8"/><rect x="288.8" y="29.2" width="11" height="7.6" fill="#0000ff"/><text x="305.4" y="36.8" fill="#888">aida07 1.8.L</text><path d="M388.2 6.800000000000001L399.4 18L388.2 29.2L377.0 18Z" fill="#ff0000"/></svg></div>
<div class="cell" style="left:959px;top:683px;width:474px;height:135px"><svg width="474" height="135" viewBox="0 0 474 135" font-family="DejaVu Serif, Liberation Serif, serif" font-size="11.4" letter-spacing="0.38"><path d="M140.25 17.75V113.70M193.93 17.75V113.70M247.61 17.75V113.70M301.29 17.75V113.70M354.97 17.75V113.70M103.75 113.70H388.25M103.75 80.55H388.25M103.75 47.39H388.25" stroke="#545454" stroke-opacity="0.18" stroke-width="1" fill="none"/><rect x="102.88" y="16.88" width="286.25" height="97.62" fill="none" stroke="#808080" stroke-width="1.75"/><path d="M103.8 113.7L104.6 113.7L105.4 113.6L106.2 113.7L107.0 113.7L107.8 113.7L108.6 113.7L109.4 113.7L110.2 113.6L111.0 113.7L111.8 113.6L112.6 113.7L113.4 113.7L114.2 113.7L115.0 113.6L115.8 113.6L116.6 113.7L117.4 113.7L118.2 113.6L119.0 113.7L119.8 113.7L120.6 113.7L121.4 113.6L122.2 113.7L123.0 113.7L123.8 113.7L124.6 113.7L125.4 113.7L126.2 113.7L127.0 113.7L127.8 113.6L128.6 113.6L129.4 113.7L130.2 113.6L131.0 113.6L131.8 113.7L132.6 113.6L133.4 113.6L134.2 113.7L135.0 113.6L135.8 113.7L136.6 113.6L137.4 113.7L138.2 113.6L139.0 113.6L139.8 113.6L140.6 113.7L141.4 113.6L142.2 113.6L143.0 113.6L143.8 113.5L144.6 113.6L145.4 113.6L146.2 113.6L147.0 113.7L147.8 113.6L148.6 113.6L149.4 113.5L150.2 113.6L151.0 113.7L151.8 113.6L152.6 113.7L153.4 113.6L154.2 113.6L155.0 113.5L155.8 113.5L156.6 113.6L157.4 113.5L158.2 113.5L159.0 113.6L159.8 113.6L160.6 113.5L161.4 113.5L162.2 113.5L163.0 113.4L163.8 113.6L164.6 113.5L165.4 113.5L166.2 113.6L167.0 113.4L167.8 113.2L168.6 113.4L169.4 113.4L170.2 113.1L171.0 113.1L171.8 113.1L172.6 113.0L173.4 113.1L174.2 113.1L175.0 112.8L175.8 112.9L176.6 113.2L177.4 112.6L178.2 112.7L179.0 112.3L179.8 112.5L180.6 112.8L180.8 112.3L181.1 112.3L181.3 111.7L181.6 111.7L181.8 111.5L182.1 111.9L182.3 111.5L182.6 110.9L182.8 111.5L183.1 110.8L183.3 110.3L183.6 110.6L183.8 109.9L184.1 110.5L184.3 108.5L184.6 109.0L184.8 107.2L185.1 106.9L185.3 107.1L185.6 106.2L185.8 105.0L186.1 103.3L186.3 100.8L186.6 100.3L186.8 98.2L187.1 97.9L187.3 94.4L187.6 92.9L187.8 90.3L188.1 87.4L188.3 83.6L188.6 81.4L188.8 78.5L189.1 76.0L189.3 73.3L189.6 68.8L189.8 65.4L190.1 62.8L190.3 59.1L190.6 56.3L190.8 54.0L191.1 48.6L191.3 48.4L191.6 42.7L191.8 41.6L192.1 37.6L192.3 31.9L192.6 31.3L192.8 29.2L193.1 29.6L193.3 30.1L193.6 26.9L193.8 27.2L194.1 27.7L194.3 27.8L194.6 28.5L194.8 29.9L195.1 29.7L195.3 30.9L195.6 35.5L195.8 34.5L196.1 41.3L196.3 42.3L196.6 44.9L196.8 52.3L197.1 52.8L197.3 57.1L197.6 60.0L197.8 62.7L198.1 66.9L198.3 71.8L198.6 71.0L198.8 75.2L199.1 79.6L199.3 82.7L199.6 84.7L199.8 89.0L200.1 90.0L200.3 94.2L200.6 94.7L200.8 96.6L201.1 99.1L201.3 100.9L201.6 102.2L201.8 104.2L202.1 105.4L202.3 106.0L202.6 106.8L202.8 108.3L203.1 108.7L203.3 109.1L203.6 109.8L203.8 110.5L204.1 110.7L204.3 111.1L204.6 111.0L204.8 111.4L205.1 111.9L205.3 111.7L205.6 112.3L205.8 112.6L206.1 112.7L206.9 112.8L207.7 112.6L208.5 113.0L209.3 113.4L210.1 113.3L210.9 113.4L211.7 113.4L212.5 113.2L213.3 113.2L214.1 113.5L214.9 113.4L215.7 113.4L216.5 113.4L217.3 113.3L218.1 113.4L218.9 113.5L219.7 113.5L220.5 113.7L221.3 113.6L222.1 113.5L222.9 113.6L223.7 113.6L224.5 113.6L225.3 113.6L226.1 113.6L226.9 113.6L227.7 113.6L228.5 113.6L229.3 113.6L230.1 113.6L230.9 113.7L231.7 113.5L232.5 113.6L233.3 113.6L234.1 113.6L234.9 113.5L235.7 113.6L236.5 113.6L237.3 113.6L238.1 113.6L238.9 113.7L239.7 113.7L240.5 113.7L241.3 113.7L242.1 113.7L242.9 113.7L243.7 113.7L244.5 113.5L245.3 113.6L246.1 113.6L246.9 113.6L247.7 113.6L248.5 113.7L249.3 113.7L250.1 113.7L250.9 113.6L251.7 113.6L252.5 113.6L253.3 113.6L254.1 113.7L254.9 113.6L255.7 113.6L256.5 113.7L257.3 113.6L258.1 113.7L258.9 113.6L259.7 113.5L260.5 113.7L261.3 113.6L262.1 113.7L262.9 113.7L263.7 113.6L264.5 113.7L265.3 113.7L266.1 113.7L266.9 113.7L267.7 113.7L268.5 113.7L269.3 113.6L270.1 113.6L270.9 113.7L271.7 113.7L272.5 113.7L273.3 113.7L274.1 113.7L274.9 113.7L275.7 113.6L276.5 113.7L277.3 113.7L278.1 113.7L278.9 113.7L279.7 113.6L280.5 113.7L281.3 113.7L282.1 113.7L282.9 113.7L283.7 113.7L284.5 113.7L285.3 113.7L286.1 113.7L286.9 113.7L287.7 113.7L288.5 113.7L289.3 113.7L290.1 113.7L290.9 113.7L291.7 113.7L292.5 113.7L293.3 113.7L294.1 113.7L294.9 113.7L295.7 113.7L296.5 113.7L297.3 113.7L298.1 113.7L298.9 113.7L299.7 113.7L300.5 113.7L301.3 113.7L302.1 113.7L302.9 113.7L303.7 113.7L304.5 113.7L305.3 113.7L306.1 113.7L306.9 113.7L307.7 113.7L308.5 113.6L309.3 113.6L310.1 113.7L310.9 113.7L311.7 113.7L312.5 113.7L313.3 113.6L314.1 113.7L314.9 113.7L315.7 113.7L316.5 113.7L317.3 113.7L318.1 113.7L318.9 113.7L319.7 113.7L320.5 113.6L321.3 113.7L322.1 113.7L322.9 113.7L323.7 113.7L324.5 113.7L325.3 113.7L326.1 113.7L326.9 113.7L327.7 113.7L328.5 113.7L329.3 113.7L330.1 113.7L330.9 113.7L331.7 113.7L332.5 113.7L333.3 113.7L334.1 113.7L334.9 113.7L335.7 113.7L336.5 113.7L337.3 113.7L338.1 113.6L338.9 113.7L339.7 113.7L340.5 113.7L341.3 113.7L342.1 113.7L342.9 113.7L343.7 113.7L344.5 113.7L345.3 113.7L346.1 113.7L346.9 113.7L347.7 113.7L348.5 113.7L349.3 113.7L350.1 113.6L350.9 113.7L351.7 113.7L352.5 113.7L353.3 113.7L354.1 113.6L354.9 113.7L355.7 113.7L356.5 113.7L357.3 113.7L358.1 113.7L358.9 113.7L359.7 113.7L360.5 113.7L361.3 113.6L362.1 113.7L362.9 113.7L363.7 113.7L364.5 113.7L365.3 113.7L366.1 113.7L366.9 113.7L367.7 113.7L368.5 113.7L369.3 113.7L370.1 113.6L370.9 113.7L371.7 113.7L372.5 113.7L373.3 113.7L374.1 113.7L374.9 113.7L375.7 113.6L376.5 113.6L377.3 113.7L378.1 113.7L378.9 113.7L379.7 113.7L380.5 113.7L381.3 113.7L382.1 113.7L382.9 113.7L383.7 113.7L384.5 113.7L385.3 113.7L386.1 113.7L386.9 113.7L387.7 113.7" fill="none" stroke="#0000ff" stroke-width="1.25" stroke-opacity="0.85" stroke-linejoin="round"/><text x="140.5" y="129.6" text-anchor="middle" fill="#545454">16000</text><text x="194.1" y="129.6" text-anchor="middle" fill="#545454">16500</text><text x="247.8" y="129.6" text-anchor="middle" fill="#545454">17000</text><text x="301.5" y="129.6" text-anchor="middle" fill="#545454">17500</text><text x="355.2" y="129.6" text-anchor="middle" fill="#545454">18000</text><text x="100.1" y="117.6" text-anchor="end" fill="#545454">0</text><text x="100.1" y="84.6" text-anchor="end" fill="#545454">500</text><text x="100.1" y="51.6" text-anchor="end" fill="#545454">1000</text><rect x="287.4" y="27.6" width="13.6" height="10.6" fill="#fffff4" stroke="#ccc" stroke-width="0.8"/><rect x="288.8" y="29.2" width="11" height="7.6" fill="#0000ff"/><text x="305.4" y="36.8" fill="#888">aida16 1.8.L</text><path d="M388.2 6.800000000000001L399.4 18L388.2 29.2L377.0 18Z" fill="#ff0000"/></svg></div>
<div class="cell" style="left:1435px;top:683px;width:474px;height:135px"></div>
<button type="button" style="left:6px;top:835px;width:111px">Empty Log Window</button>
<button type="button" style="left:122px;top:835px;width:148px">Send Log Window to ELog</button>
<button type="button" style="left:274px;top:835px;width:45px">Reload</button>
<button type="button" style="left:323px;top:835px;width:39px">Reset</button>
<button type="button" style="left:366px;top:835px;width:89px">Show Variables</button>
<button type="button" style="left:460px;top:835px;width:107px">Show Log Window</button>
<button type="button" style="left:572px;top:835px;width:88px">Enable Logging</button>
<button type="button" style="left:1792px;top:835px;width:120px">How to use this page</button>
<div class="a t" style="right:2.4px;top:868.9px">Last Updated: March 03, 2022 13:12:04</div>
</div>
</body></html>
